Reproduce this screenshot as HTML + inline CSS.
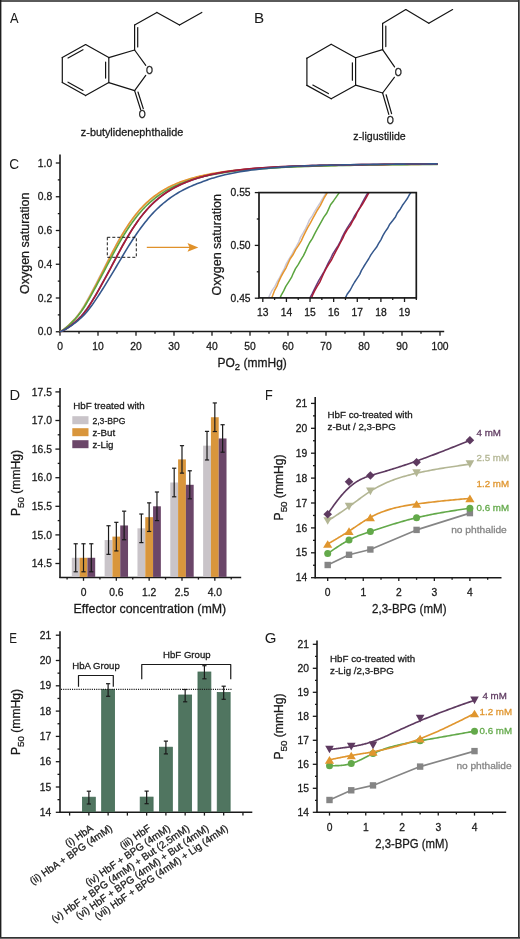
<!DOCTYPE html>
<html><head><meta charset="utf-8"><style>
html,body{margin:0;padding:0;background:#fff;}
body{width:520px;height:939px;overflow:hidden;}
svg text{stroke-width:0.28px;}
svg{display:block;font-family:"Liberation Sans", sans-serif;-webkit-font-smoothing:antialiased;will-change:transform;}
</style></head><body>
<svg width="520" height="939" viewBox="0 0 520 939">
<rect width="520" height="939" fill="#fff"/>
<line x1="62.3" y1="57.6" x2="85.6" y2="44.6" stroke="#141414" stroke-width="1.2" stroke-linecap="round"/>
<line x1="85.6" y1="44.6" x2="108.8" y2="57.6" stroke="#141414" stroke-width="1.2" stroke-linecap="round"/>
<line x1="108.8" y1="57.6" x2="108.8" y2="82.6" stroke="#141414" stroke-width="1.2" stroke-linecap="round"/>
<line x1="108.8" y1="82.6" x2="85.6" y2="95.6" stroke="#141414" stroke-width="1.2" stroke-linecap="round"/>
<line x1="85.6" y1="95.6" x2="62.3" y2="82.6" stroke="#141414" stroke-width="1.2" stroke-linecap="round"/>
<line x1="62.3" y1="82.6" x2="62.3" y2="57.6" stroke="#141414" stroke-width="1.2" stroke-linecap="round"/>
<line x1="68.05" y1="58.05" x2="82.97" y2="49.73" stroke="#141414" stroke-width="1.2" stroke-linecap="round"/>
<line x1="68.05" y1="82.15" x2="82.97" y2="90.47" stroke="#141414" stroke-width="1.2" stroke-linecap="round"/>
<line x1="105.6" y1="62.1" x2="105.6" y2="78.1" stroke="#141414" stroke-width="1.2" stroke-linecap="round"/>
<line x1="108.8" y1="57.6" x2="134.6" y2="50" stroke="#141414" stroke-width="1.2" stroke-linecap="round"/>
<line x1="108.8" y1="82.6" x2="134.6" y2="90.6" stroke="#141414" stroke-width="1.2" stroke-linecap="round"/>
<line x1="134.6" y1="50" x2="145.76" y2="65.38" stroke="#141414" stroke-width="1.2" stroke-linecap="round"/>
<line x1="134.6" y1="90.6" x2="145.74" y2="75.4" stroke="#141414" stroke-width="1.2" stroke-linecap="round"/>
<line x1="134.6" y1="90.6" x2="140.6" y2="109.46" stroke="#141414" stroke-width="1.2" stroke-linecap="round"/>
<line x1="137.99" y1="92.01" x2="143.27" y2="108.61" stroke="#141414" stroke-width="1.2" stroke-linecap="round"/>
<text transform="translate(149.4,74.04) scale(0.86,1)" x="0" y="0" font-size="10.4" text-anchor="middle" fill="#141414" stroke="#141414">O</text>
<text transform="translate(142.3,118.44) scale(0.86,1)" x="0" y="0" font-size="10.4" text-anchor="middle" fill="#141414" stroke="#141414">O</text>
<line x1="134.6" y1="50" x2="134.6" y2="25" stroke="#141414" stroke-width="1.2" stroke-linecap="round"/>
<line x1="137.7" y1="47" x2="137.7" y2="27.5" stroke="#141414" stroke-width="1.2" stroke-linecap="round"/>
<line x1="134.6" y1="25" x2="156.9" y2="12.4" stroke="#141414" stroke-width="1.2" stroke-linecap="round"/>
<line x1="156.9" y1="12.4" x2="179.5" y2="25" stroke="#141414" stroke-width="1.2" stroke-linecap="round"/>
<line x1="179.5" y1="25" x2="201.8" y2="12.4" stroke="#141414" stroke-width="1.2" stroke-linecap="round"/>
<text x="132.1" y="135.7" font-size="10.85" text-anchor="middle" fill="#1a1a1a" stroke="#1a1a1a" font-weight="normal" >z-butylidenephthalide</text>
<line x1="306.9" y1="58.2" x2="331.2" y2="44.3" stroke="#141414" stroke-width="1.2" stroke-linecap="round"/>
<line x1="331.2" y1="44.3" x2="355.6" y2="57.8" stroke="#141414" stroke-width="1.2" stroke-linecap="round"/>
<line x1="355.6" y1="57.8" x2="355.6" y2="85.2" stroke="#141414" stroke-width="1.2" stroke-linecap="round"/>
<line x1="355.6" y1="85.2" x2="331.2" y2="98.8" stroke="#141414" stroke-width="1.2" stroke-linecap="round"/>
<line x1="331.2" y1="98.8" x2="306.9" y2="85.4" stroke="#141414" stroke-width="1.2" stroke-linecap="round"/>
<line x1="306.9" y1="85.4" x2="306.9" y2="58.2" stroke="#141414" stroke-width="1.2" stroke-linecap="round"/>
<line x1="312.82" y1="85.01" x2="328.37" y2="93.59" stroke="#141414" stroke-width="1.2" stroke-linecap="round"/>
<line x1="352.4" y1="62.73" x2="352.4" y2="80.27" stroke="#141414" stroke-width="1.2" stroke-linecap="round"/>
<line x1="355.6" y1="57.8" x2="382.6" y2="49.6" stroke="#141414" stroke-width="1.2" stroke-linecap="round"/>
<line x1="355.6" y1="85.2" x2="382.6" y2="93" stroke="#141414" stroke-width="1.2" stroke-linecap="round"/>
<line x1="382.6" y1="49.6" x2="394.56" y2="66.93" stroke="#141414" stroke-width="1.2" stroke-linecap="round"/>
<line x1="382.6" y1="93" x2="394.36" y2="77.32" stroke="#141414" stroke-width="1.2" stroke-linecap="round"/>
<line x1="382.6" y1="93" x2="388.79" y2="114.43" stroke="#141414" stroke-width="1.2" stroke-linecap="round"/>
<line x1="386.13" y1="94.77" x2="391.58" y2="113.62" stroke="#141414" stroke-width="1.2" stroke-linecap="round"/>
<text transform="translate(398.2,75.91) scale(0.86,1)" x="0" y="0" font-size="10.6" text-anchor="middle" fill="#141414" stroke="#141414">O</text>
<text transform="translate(390.4,123.71) scale(0.86,1)" x="0" y="0" font-size="10.6" text-anchor="middle" fill="#141414" stroke="#141414">O</text>
<line x1="382.6" y1="49.6" x2="382.6" y2="23.4" stroke="#141414" stroke-width="1.2" stroke-linecap="round"/>
<line x1="385.8" y1="46.6" x2="385.8" y2="26" stroke="#141414" stroke-width="1.2" stroke-linecap="round"/>
<line x1="382.6" y1="23.4" x2="405.8" y2="9.6" stroke="#141414" stroke-width="1.2" stroke-linecap="round"/>
<line x1="405.8" y1="9.6" x2="428.8" y2="23.2" stroke="#141414" stroke-width="1.2" stroke-linecap="round"/>
<line x1="428.8" y1="23.2" x2="452.6" y2="9.6" stroke="#141414" stroke-width="1.2" stroke-linecap="round"/>
<text x="379.5" y="139.9" font-size="10.6" text-anchor="middle" fill="#1a1a1a" stroke="#1a1a1a" font-weight="normal" >z-ligustilide</text>
<text transform="translate(10,23.4) scale(0.83,1)" x="0" y="0" font-size="15.5" fill="#1a1a1a" stroke="none">A</text>
<text transform="translate(254.05,23.3) scale(0.98,1)" x="0" y="0" font-size="15.5" fill="#1a1a1a" stroke="none">B</text>
<text transform="translate(9.15,168.9) scale(0.88,1)" x="0" y="0" font-size="15.5" fill="#1a1a1a" stroke="none">C</text>
<text transform="translate(9.48,400) scale(0.95,1)" x="0" y="0" font-size="15.5" fill="#1a1a1a" stroke="none">D</text>
<text transform="translate(9.27,642.9) scale(0.75,1)" x="0" y="0" font-size="15.5" fill="#1a1a1a" stroke="none">E</text>
<text transform="translate(265,400) scale(0.82,1)" x="0" y="0" font-size="15.5" fill="#1a1a1a" stroke="none">F</text>
<text transform="translate(264.86,642.6) scale(0.97,1)" x="0" y="0" font-size="15.5" fill="#1a1a1a" stroke="none">G</text>
<line x1="60" y1="154.5" x2="60" y2="332.4" stroke="#1a1a1a" stroke-width="1.6" />
<line x1="59.2" y1="331.5" x2="444.2" y2="331.5" stroke="#1a1a1a" stroke-width="1.6" />
<line x1="55.8" y1="331.75" x2="60" y2="331.75" stroke="#1a1a1a" stroke-width="1.3" />
<text x="52.2" y="335.45" font-size="10.3" text-anchor="end" fill="#1a1a1a" stroke="#1a1a1a" font-weight="normal" >0.0</text>
<line x1="57.8" y1="314.88" x2="60" y2="314.88" stroke="#1a1a1a" stroke-width="1.3" />
<line x1="55.8" y1="298" x2="60" y2="298" stroke="#1a1a1a" stroke-width="1.3" />
<text x="52.2" y="301.7" font-size="10.3" text-anchor="end" fill="#1a1a1a" stroke="#1a1a1a" font-weight="normal" >0.2</text>
<line x1="57.8" y1="281.12" x2="60" y2="281.12" stroke="#1a1a1a" stroke-width="1.3" />
<line x1="55.8" y1="264.25" x2="60" y2="264.25" stroke="#1a1a1a" stroke-width="1.3" />
<text x="52.2" y="267.95" font-size="10.3" text-anchor="end" fill="#1a1a1a" stroke="#1a1a1a" font-weight="normal" >0.4</text>
<line x1="57.8" y1="247.38" x2="60" y2="247.38" stroke="#1a1a1a" stroke-width="1.3" />
<line x1="55.8" y1="230.5" x2="60" y2="230.5" stroke="#1a1a1a" stroke-width="1.3" />
<text x="52.2" y="234.2" font-size="10.3" text-anchor="end" fill="#1a1a1a" stroke="#1a1a1a" font-weight="normal" >0.6</text>
<line x1="57.8" y1="213.62" x2="60" y2="213.62" stroke="#1a1a1a" stroke-width="1.3" />
<line x1="55.8" y1="196.75" x2="60" y2="196.75" stroke="#1a1a1a" stroke-width="1.3" />
<text x="52.2" y="200.45" font-size="10.3" text-anchor="end" fill="#1a1a1a" stroke="#1a1a1a" font-weight="normal" >0.8</text>
<line x1="57.8" y1="179.88" x2="60" y2="179.88" stroke="#1a1a1a" stroke-width="1.3" />
<line x1="55.8" y1="163" x2="60" y2="163" stroke="#1a1a1a" stroke-width="1.3" />
<text x="52.2" y="166.7" font-size="10.3" text-anchor="end" fill="#1a1a1a" stroke="#1a1a1a" font-weight="normal" >1.0</text>
<line x1="60" y1="331.75" x2="60" y2="335.8" stroke="#1a1a1a" stroke-width="1.3" />
<text x="60" y="349.5" font-size="10.3" text-anchor="middle" fill="#1a1a1a" stroke="#1a1a1a" font-weight="normal" >0</text>
<line x1="79" y1="331.75" x2="79" y2="333.8" stroke="#1a1a1a" stroke-width="1.3" />
<line x1="98" y1="331.75" x2="98" y2="335.8" stroke="#1a1a1a" stroke-width="1.3" />
<text x="98" y="349.5" font-size="10.3" text-anchor="middle" fill="#1a1a1a" stroke="#1a1a1a" font-weight="normal" >10</text>
<line x1="117" y1="331.75" x2="117" y2="333.8" stroke="#1a1a1a" stroke-width="1.3" />
<line x1="136" y1="331.75" x2="136" y2="335.8" stroke="#1a1a1a" stroke-width="1.3" />
<text x="136" y="349.5" font-size="10.3" text-anchor="middle" fill="#1a1a1a" stroke="#1a1a1a" font-weight="normal" >20</text>
<line x1="155" y1="331.75" x2="155" y2="333.8" stroke="#1a1a1a" stroke-width="1.3" />
<line x1="174" y1="331.75" x2="174" y2="335.8" stroke="#1a1a1a" stroke-width="1.3" />
<text x="174" y="349.5" font-size="10.3" text-anchor="middle" fill="#1a1a1a" stroke="#1a1a1a" font-weight="normal" >30</text>
<line x1="193" y1="331.75" x2="193" y2="333.8" stroke="#1a1a1a" stroke-width="1.3" />
<line x1="212" y1="331.75" x2="212" y2="335.8" stroke="#1a1a1a" stroke-width="1.3" />
<text x="212" y="349.5" font-size="10.3" text-anchor="middle" fill="#1a1a1a" stroke="#1a1a1a" font-weight="normal" >40</text>
<line x1="231" y1="331.75" x2="231" y2="333.8" stroke="#1a1a1a" stroke-width="1.3" />
<line x1="250" y1="331.75" x2="250" y2="335.8" stroke="#1a1a1a" stroke-width="1.3" />
<text x="250" y="349.5" font-size="10.3" text-anchor="middle" fill="#1a1a1a" stroke="#1a1a1a" font-weight="normal" >50</text>
<line x1="269" y1="331.75" x2="269" y2="333.8" stroke="#1a1a1a" stroke-width="1.3" />
<line x1="288" y1="331.75" x2="288" y2="335.8" stroke="#1a1a1a" stroke-width="1.3" />
<text x="288" y="349.5" font-size="10.3" text-anchor="middle" fill="#1a1a1a" stroke="#1a1a1a" font-weight="normal" >60</text>
<line x1="307" y1="331.75" x2="307" y2="333.8" stroke="#1a1a1a" stroke-width="1.3" />
<line x1="326" y1="331.75" x2="326" y2="335.8" stroke="#1a1a1a" stroke-width="1.3" />
<text x="326" y="349.5" font-size="10.3" text-anchor="middle" fill="#1a1a1a" stroke="#1a1a1a" font-weight="normal" >70</text>
<line x1="345" y1="331.75" x2="345" y2="333.8" stroke="#1a1a1a" stroke-width="1.3" />
<line x1="364" y1="331.75" x2="364" y2="335.8" stroke="#1a1a1a" stroke-width="1.3" />
<text x="364" y="349.5" font-size="10.3" text-anchor="middle" fill="#1a1a1a" stroke="#1a1a1a" font-weight="normal" >80</text>
<line x1="383" y1="331.75" x2="383" y2="333.8" stroke="#1a1a1a" stroke-width="1.3" />
<line x1="402" y1="331.75" x2="402" y2="335.8" stroke="#1a1a1a" stroke-width="1.3" />
<text x="402" y="349.5" font-size="10.3" text-anchor="middle" fill="#1a1a1a" stroke="#1a1a1a" font-weight="normal" >90</text>
<line x1="421" y1="331.75" x2="421" y2="333.8" stroke="#1a1a1a" stroke-width="1.3" />
<line x1="440" y1="331.75" x2="440" y2="335.8" stroke="#1a1a1a" stroke-width="1.3" />
<text x="440" y="349.5" font-size="10.3" text-anchor="middle" fill="#1a1a1a" stroke="#1a1a1a" font-weight="normal" >100</text>
<text x="28.7" y="243.3" font-size="12.5" text-anchor="middle" fill="#1a1a1a" stroke="#1a1a1a" transform="rotate(-90 28.7 243.3)">Oxygen saturation</text>
<text x="217.5" y="366.8" font-size="12" text-anchor="start" fill="#1a1a1a" stroke="#1a1a1a" font-weight="normal" >PO<tspan font-size="9.5" dy="3.3">2</tspan><tspan dy="-3.3"> (mmHg)</tspan></text>
<polyline points="60,331.75 61.52,330.77 63.04,329.81 64.56,328.62 66.08,327.32 67.6,325.96 69.12,324.53 70.64,323.04 72.16,321.48 73.68,319.86 75.2,318.21 76.72,316.4 78.24,314.44 79.76,312.35 81.28,310.12 82.8,307.73 84.32,305.26 85.84,302.59 87.36,299.89 88.88,297.15 90.4,294.39 91.92,291.54 93.44,288.69 94.96,285.77 96.48,282.84 98,279.93 99.52,276.96 101.04,274.02 102.56,271.11 104.08,268.12 105.6,265.1 107.12,262.14 108.64,259.21 110.16,256.18 111.68,253.22 113.2,250.33 114.72,247.51 116.24,244.68 117.76,241.93 119.28,239.26 120.8,236.67 122.32,234.13 123.84,231.63 125.36,229.21 126.88,226.88 128.4,224.63 129.92,222.44 131.44,220.29 132.96,218.23 134.48,216.24 136,214.33 137.52,212.5 139.04,210.74 140.56,209.05 142.08,207.43 143.6,205.87 145.12,204.38 146.64,202.95 148.16,201.58 149.68,200.26 151.2,198.99 152.72,197.77 154.24,196.61 155.76,195.49 157.28,194.41 158.8,193.38 160.32,192.39 161.84,191.44 163.36,190.52 164.88,189.65 166.4,188.8 167.92,187.99 169.44,187.21 170.96,186.47 172.48,185.75 174,185.05 175.52,184.39 177.04,183.75 178.56,183.13 180.08,182.54 181.6,181.96 183.12,181.41 184.64,180.89 186.16,180.38 187.68,179.88 189.2,179.41 190.72,178.95 192.24,178.51 193.76,178.09 195.28,177.68 196.8,177.28 198.32,176.9 199.84,176.53 201.36,176.18 202.88,175.83 204.4,175.5 205.92,175.18 207.44,174.87 208.96,174.57 210.48,174.28 212,174 213.52,173.72 217.32,173.08 221.12,172.49 224.92,171.95 228.72,171.44 232.52,170.98 236.32,170.54 240.12,170.14 243.92,169.77 247.72,169.42 251.52,169.11 255.32,168.81 259.12,168.54 262.92,168.28 266.72,168.04 270.52,167.82 274.32,167.61 278.12,167.41 281.92,167.23 285.72,167.06 289.52,166.9 293.32,166.74 297.12,166.6 300.92,166.46 304.72,166.34 308.52,166.22 312.32,166.11 316.12,166 319.92,165.89 323.72,165.8 327.52,165.7 331.32,165.62 335.12,165.53 338.92,165.45 342.72,165.38 346.52,165.31 350.32,165.24 354.12,165.17 357.92,165.11 361.72,165.05 365.52,164.99 369.32,164.94 373.12,164.89 376.92,164.85 380.72,164.8 384.52,164.76 388.32,164.71 392.12,164.67 395.92,164.63 399.72,164.6 403.52,164.56 407.32,164.53 411.12,164.49 414.92,164.46 418.72,164.43 422.52,164.4 426.32,164.38 430.12,164.35 433.92,164.32 437.72,164.3" fill="none" stroke="#c9c6d6" stroke-width="1.6" stroke-linejoin="round" />
<polyline points="60,331.75 61.52,330.84 63.04,329.94 64.56,328.82 66.08,327.57 67.6,326.26 69.12,324.88 70.64,323.43 72.16,321.91 73.68,320.34 75.2,318.72 76.72,316.97 78.24,315.08 79.76,313.07 81.28,310.87 82.8,308.56 84.32,306.11 85.84,303.51 87.36,300.82 88.88,298.09 90.4,295.34 91.92,292.5 93.44,289.64 94.96,286.74 96.48,283.79 98,280.86 99.52,277.89 101.04,274.91 102.56,271.97 104.08,268.99 105.6,265.93 107.12,262.92 108.64,259.96 110.16,256.91 111.68,253.9 113.2,250.95 114.72,248.08 116.24,245.21 117.76,242.41 119.28,239.68 120.8,237.04 122.32,234.45 123.84,231.9 125.36,229.43 126.88,227.06 128.4,224.76 129.92,222.53 131.44,220.34 132.96,218.23 134.48,216.2 136,214.26 137.52,212.39 139.04,210.6 140.56,208.88 142.08,207.23 143.6,205.65 145.12,204.14 146.64,202.68 148.16,201.29 149.68,199.95 151.2,198.67 152.72,197.44 154.24,196.25 155.76,195.12 157.28,194.04 158.8,193 160.32,192 161.84,191.04 163.36,190.11 164.88,189.23 166.4,188.38 167.92,187.56 169.44,186.78 170.96,186.03 172.48,185.31 174,184.61 175.52,183.94 177.04,183.3 178.56,182.68 180.08,182.09 181.6,181.52 183.12,180.97 184.64,180.44 186.16,179.94 187.68,179.44 189.2,178.97 190.72,178.52 192.24,178.08 193.76,177.66 195.28,177.25 196.8,176.86 198.32,176.48 199.84,176.11 201.36,175.76 202.88,175.42 204.4,175.09 205.92,174.77 207.44,174.47 208.96,174.17 210.48,173.88 212,173.61 213.52,173.34 217.32,172.71 221.12,172.13 224.92,171.59 228.72,171.1 232.52,170.64 236.32,170.22 240.12,169.82 243.92,169.46 247.72,169.13 251.52,168.82 255.32,168.54 259.12,168.27 262.92,168.02 266.72,167.79 270.52,167.58 274.32,167.38 278.12,167.19 281.92,167.01 285.72,166.85 289.52,166.69 293.32,166.54 297.12,166.41 300.92,166.28 304.72,166.16 308.52,166.04 312.32,165.93 316.12,165.83 319.92,165.73 323.72,165.64 327.52,165.55 331.32,165.47 335.12,165.39 338.92,165.31 342.72,165.24 346.52,165.17 350.32,165.1 354.12,165.04 357.92,164.98 361.72,164.93 365.52,164.88 369.32,164.83 373.12,164.78 376.92,164.74 380.72,164.69 384.52,164.65 388.32,164.61 392.12,164.57 395.92,164.54 399.72,164.5 403.52,164.47 407.32,164.44 411.12,164.41 414.92,164.38 418.72,164.35 422.52,164.32 426.32,164.29 430.12,164.27 433.92,164.24 437.72,164.22" fill="none" stroke="#e6962e" stroke-width="1.6" stroke-linejoin="round" />
<polyline points="60,331.75 61.52,330.83 63.04,329.94 64.56,328.84 66.08,327.61 67.6,326.33 69.12,324.99 70.64,323.57 72.16,322.1 73.68,320.57 75.2,319 76.72,317.33 78.24,315.53 79.76,313.59 81.28,311.5 82.8,309.31 84.32,306.96 85.84,304.51 87.36,301.92 88.88,299.29 90.4,296.64 91.92,293.95 93.44,291.18 94.96,288.42 96.48,285.58 98,282.74 99.52,279.91 101.04,277.03 102.56,274.17 104.08,271.34 105.6,268.44 107.12,265.5 108.64,262.61 110.16,259.77 111.68,256.83 113.2,253.93 114.72,251.09 116.24,248.33 117.76,245.57 119.28,242.86 120.8,240.23 122.32,237.67 123.84,235.19 125.36,232.72 126.88,230.32 128.4,228 129.92,225.77 131.44,223.61 132.96,221.48 134.48,219.41 136,217.43 137.52,215.51 139.04,213.67 140.56,211.91 142.08,210.21 143.6,208.57 145.12,207.01 146.64,205.5 148.16,204.06 149.68,202.67 151.2,201.33 152.72,200.05 154.24,198.82 155.76,197.63 157.28,196.49 158.8,195.4 160.32,194.35 161.84,193.34 163.36,192.37 164.88,191.44 166.4,190.54 167.92,189.68 169.44,188.85 170.96,188.05 172.48,187.29 174,186.55 175.52,185.84 177.04,185.16 178.56,184.5 180.08,183.86 181.6,183.25 183.12,182.67 184.64,182.1 186.16,181.55 187.68,181.03 189.2,180.52 190.72,180.04 192.24,179.56 193.76,179.11 195.28,178.67 196.8,178.25 198.32,177.84 199.84,177.44 201.36,177.06 202.88,176.69 204.4,176.34 205.92,176 207.44,175.66 208.96,175.34 210.48,175.03 212,174.73 213.52,174.44 217.32,173.75 221.12,173.12 224.92,172.53 228.72,171.99 232.52,171.49 236.32,171.03 240.12,170.6 243.92,170.2 247.72,169.83 251.52,169.48 255.32,169.16 259.12,168.87 262.92,168.6 266.72,168.34 270.52,168.1 274.32,167.87 278.12,167.66 281.92,167.47 285.72,167.28 289.52,167.11 293.32,166.95 297.12,166.79 300.92,166.65 304.72,166.51 308.52,166.38 312.32,166.26 316.12,166.15 319.92,166.04 323.72,165.93 327.52,165.84 331.32,165.74 335.12,165.65 338.92,165.57 342.72,165.49 346.52,165.41 350.32,165.34 354.12,165.27 357.92,165.2 361.72,165.14 365.52,165.08 369.32,165.02 373.12,164.97 376.92,164.92 380.72,164.87 384.52,164.82 388.32,164.78 392.12,164.74 395.92,164.7 399.72,164.66 403.52,164.62 407.32,164.58 411.12,164.55 414.92,164.51 418.72,164.48 422.52,164.45 426.32,164.42 430.12,164.39 433.92,164.37 437.72,164.34" fill="none" stroke="#5ba53f" stroke-width="1.6" stroke-linejoin="round" />
<polyline points="60,331.75 61.52,331.13 63.04,330.47 64.56,329.74 66.08,328.82 67.6,327.81 69.12,326.74 70.64,325.62 72.16,324.43 73.68,323.17 75.2,321.86 76.72,320.49 78.24,319.07 79.76,317.58 81.28,315.98 82.8,314.21 84.32,312.34 85.84,310.35 87.36,308.22 88.88,306 90.4,303.63 91.92,301.17 93.44,298.67 94.96,296.14 96.48,293.55 98,290.9 99.52,288.23 101.04,285.49 102.56,282.73 104.08,279.98 105.6,277.17 107.12,274.37 108.64,271.59 110.16,268.76 111.68,265.85 113.2,262.99 114.72,260.17 116.24,257.26 117.76,254.36 119.28,251.52 120.8,248.74 122.32,245.98 123.84,243.24 125.36,240.58 126.88,237.99 128.4,235.48 129.92,232.97 131.44,230.53 132.96,228.17 134.48,225.89 136,223.68 137.52,221.5 139.04,219.38 140.56,217.35 142.08,215.39 143.6,213.5 145.12,211.68 146.64,209.94 148.16,208.27 149.68,206.66 151.2,205.11 152.72,203.63 154.24,202.2 155.76,200.83 157.28,199.52 158.8,198.25 160.32,197.03 161.84,195.87 163.36,194.75 164.88,193.67 166.4,192.64 167.92,191.65 169.44,190.7 170.96,189.78 172.48,188.9 174,188.06 175.52,187.25 177.04,186.47 178.56,185.72 180.08,185 181.6,184.31 183.12,183.64 184.64,183 186.16,182.38 187.68,181.76 189.2,181.17 190.72,180.6 192.24,180.05 193.76,179.52 195.28,179.01 196.8,178.52 198.32,178.05 199.84,177.59 201.36,177.15 202.88,176.73 204.4,176.32 205.92,175.93 207.44,175.55 208.96,175.18 210.48,174.83 212,174.49 213.52,174.16 217.32,173.39 221.12,172.68 224.92,172.03 228.72,171.44 232.52,170.89 236.32,170.39 240.12,169.92 243.92,169.5 247.72,169.1 251.52,168.74 255.32,168.41 259.12,168.11 262.92,167.82 266.72,167.56 270.52,167.32 274.32,167.09 278.12,166.9 281.92,166.71 285.72,166.54 289.52,166.38 293.32,166.23 297.12,166.09 300.92,165.96 304.72,165.84 308.52,165.73 312.32,165.62 316.12,165.51 319.92,165.42 323.72,165.33 327.52,165.24 331.32,165.16 335.12,165.08 338.92,165.01 342.72,164.94 346.52,164.87 350.32,164.81 354.12,164.75 357.92,164.7 361.72,164.65 365.52,164.6 369.32,164.55 373.12,164.51 376.92,164.47 380.72,164.43 384.52,164.39 388.32,164.35 392.12,164.32 395.92,164.28 399.72,164.25 403.52,164.22 407.32,164.19 411.12,164.16 414.92,164.14 418.72,164.11 422.52,164.09 426.32,164.06 430.12,164.04 433.92,164.02 437.72,164" fill="none" stroke="#6a3d7c" stroke-width="1.6" stroke-linejoin="round" />
<polyline points="60,331.75 61.52,331.15 63.04,330.51 64.56,329.8 66.08,328.91 67.6,327.92 69.12,326.87 70.64,325.76 72.16,324.59 73.68,323.35 75.2,322.05 76.72,320.7 78.24,319.3 79.76,317.84 81.28,316.25 82.8,314.51 84.32,312.68 85.84,310.7 87.36,308.61 88.88,306.39 90.4,304.06 91.92,301.6 93.44,299.11 94.96,296.58 96.48,294 98,291.35 99.52,288.68 101.04,285.94 102.56,283.18 104.08,280.42 105.6,277.61 107.12,274.79 108.64,272 110.16,269.18 111.68,266.25 113.2,263.36 114.72,260.52 116.24,257.61 117.76,254.69 119.28,251.83 120.8,249.02 122.32,246.25 123.84,243.49 125.36,240.8 126.88,238.19 128.4,235.65 129.92,233.12 131.44,230.66 132.96,228.28 134.48,225.97 136,223.75 137.52,221.55 139.04,219.41 140.56,217.36 142.08,215.38 143.6,213.47 145.12,211.64 146.64,209.89 148.16,208.2 149.68,206.57 151.2,205.02 152.72,203.52 154.24,202.09 155.76,200.71 157.28,199.38 158.8,198.11 160.32,196.89 161.84,195.71 163.36,194.59 164.88,193.51 166.4,192.48 167.92,191.48 169.44,190.52 170.96,189.6 172.48,188.72 174,187.87 175.52,187.06 177.04,186.28 178.56,185.53 180.08,184.81 181.6,184.11 183.12,183.44 184.64,182.8 186.16,182.17 187.68,181.56 189.2,180.96 190.72,180.39 192.24,179.85 193.76,179.32 195.28,178.81 196.8,178.32 198.32,177.85 199.84,177.39 201.36,176.95 202.88,176.53 204.4,176.13 205.92,175.74 207.44,175.36 208.96,174.99 210.48,174.64 212,174.3 213.52,173.98 217.32,173.21 221.12,172.51 224.92,171.86 228.72,171.27 232.52,170.73 236.32,170.23 240.12,169.78 243.92,169.35 247.72,168.96 251.52,168.61 255.32,168.29 259.12,167.99 262.92,167.71 266.72,167.45 270.52,167.21 274.32,166.99 278.12,166.8 281.92,166.62 285.72,166.45 289.52,166.3 293.32,166.15 297.12,166.01 300.92,165.89 304.72,165.77 308.52,165.65 312.32,165.55 316.12,165.45 319.92,165.35 323.72,165.26 327.52,165.18 331.32,165.1 335.12,165.02 338.92,164.95 342.72,164.88 346.52,164.82 350.32,164.76 354.12,164.7 357.92,164.65 361.72,164.6 365.52,164.56 369.32,164.51 373.12,164.47 376.92,164.43 380.72,164.39 384.52,164.35 388.32,164.31 392.12,164.28 395.92,164.25 399.72,164.22 403.52,164.19 407.32,164.16 411.12,164.13 414.92,164.1 418.72,164.08 422.52,164.05 426.32,164.03 430.12,164.01 433.92,163.99 437.72,163.97" fill="none" stroke="#a81c36" stroke-width="1.6" stroke-linejoin="round" />
<polyline points="60,331.75 61.52,331.15 63.04,330.52 64.56,329.85 66.08,329.03 67.6,328.1 69.12,327.13 70.64,326.11 72.16,325.05 73.68,323.93 75.2,322.76 76.72,321.54 78.24,320.28 79.76,318.99 81.28,317.62 82.8,316.17 84.32,314.59 85.84,312.94 87.36,311.15 88.88,309.3 90.4,307.31 91.92,305.28 93.44,303.09 94.96,300.87 96.48,298.61 98,296.33 99.52,294.01 101.04,291.63 102.56,289.23 104.08,286.8 105.6,284.33 107.12,281.86 108.64,279.39 110.16,276.86 111.68,274.35 113.2,271.86 114.72,269.35 116.24,266.74 117.76,264.17 119.28,261.63 120.8,259.1 122.32,256.48 123.84,253.9 125.36,251.37 126.88,248.9 128.4,246.44 129.92,243.99 131.44,241.6 132.96,239.26 134.48,236.99 136,234.76 137.52,232.53 139.04,230.37 140.56,228.28 142.08,226.24 143.6,224.27 145.12,222.33 146.64,220.42 148.16,218.57 149.68,216.79 151.2,215.07 152.72,213.4 154.24,211.79 155.76,210.24 157.28,208.74 158.8,207.3 160.32,205.9 161.84,204.56 163.36,203.26 164.88,202.01 166.4,200.81 167.92,199.64 169.44,198.51 170.96,197.43 172.48,196.38 174,195.37 175.52,194.4 177.04,193.46 178.56,192.56 180.08,191.68 181.6,190.84 183.12,190.02 184.64,189.24 186.16,188.48 187.68,187.75 189.2,187.04 190.72,186.36 192.24,185.7 193.76,185.07 195.28,184.45 196.8,183.86 198.32,183.29 199.84,182.73 201.36,182.15 202.88,181.55 204.4,180.97 205.92,180.41 207.44,179.88 208.96,179.35 210.48,178.85 212,178.36 213.52,177.89 217.32,176.78 221.12,175.76 224.92,174.83 228.72,173.97 232.52,173.17 236.32,172.45 240.12,171.78 243.92,171.16 247.72,170.59 251.52,170.07 255.32,169.59 259.12,169.14 262.92,168.73 266.72,168.35 270.52,168 274.32,167.68 278.12,167.38 281.92,167.11 285.72,166.86 289.52,166.62 293.32,166.41 297.12,166.2 300.92,166.02 304.72,165.87 308.52,165.74 312.32,165.62 316.12,165.5 319.92,165.4 323.72,165.3 327.52,165.2 331.32,165.11 335.12,165.03 338.92,164.95 342.72,164.88 346.52,164.81 350.32,164.74 354.12,164.67 357.92,164.61 361.72,164.56 365.52,164.51 369.32,164.45 373.12,164.41 376.92,164.36 380.72,164.31 384.52,164.27 388.32,164.23 392.12,164.19 395.92,164.16 399.72,164.12 403.52,164.09 407.32,164.06 411.12,164.03 414.92,164.01 418.72,163.98 422.52,163.95 426.32,163.93 430.12,163.91 433.92,163.88 437.72,163.86" fill="none" stroke="#34578c" stroke-width="1.6" stroke-linejoin="round" />
<rect x="107.3" y="237.3" width="29" height="20" fill="none" stroke="#1a1a1a" stroke-width="1" stroke-dasharray="3 2"/>
<line x1="146.8" y1="247.4" x2="190" y2="247.4" stroke="#e0912a" stroke-width="1.3" />
<polygon points="187.5,243 198.3,247.4 187.5,251.8 189.6,247.4" fill="#e0912a" stroke="none" stroke-width="0"/>
<clipPath id="ic"><rect x="259" y="192.6" width="157.3" height="105.3"/></clipPath>
<g clip-path="url(#ic)">
<polyline points="250.68,333.2 253.18,328.65 255.44,324.1 258.01,319.46 260.54,314.72 262.35,309.96 264.26,305.23 267.3,300.53 269.44,295.85 271.62,291.2 274.76,286.58 277.04,281.99 279.79,277.42 281.99,272.88 284.43,268.37 286.26,263.89 288.83,259.44 291.62,255.02 293.87,250.63 296.41,246.27 298.82,241.82 300.48,237.37 303.18,232.95 305.59,228.56 307.63,224.2 309.44,219.88 312.42,215.59 314.75,211.33 317.38,207.1 320.12,202.9 322.55,198.74 325.11,194.61 327.08,190.51 329.65,186.45 331.73,182.42 334.49,178.42 336.92,174.45 338.53,170.52 340.41,166.51 342.53,162.51 345.63,158.55 347.87,154.61 350.37,150.72 352.44,146.85 354.85,143.02 357.09,139.23 359.33,135.46 361.89,131.74 364.39,128.04 367.23,124.38 369.66,120.75 372.35,117.15 374.71,113.59 377.08,110.06 379.37,106.56 381.08,103.09 383.82,99.66 386.52,96.26 388.89,92.83 391.06,89.38 393.47,85.97 395.25,82.59 397.96,79.24 400.25,75.93 402.22,72.65 404.04,69.4 406.97,66.18 409.89,62.99 411.57,59.83 414.3,56.71 416.46,53.62 418.36,50.55 420.57,47.52 423.4,44.52 426.22,41.55" fill="none" stroke="#c9c6d6" stroke-width="1.5" stroke-linejoin="round" />
<polyline points="250.44,338.02 253.11,333.39 255,328.77 257.84,324.18 260.07,319.49 263,314.69 265.88,309.87 268.03,305.09 270.79,300.33 272.65,295.6 274.38,290.89 276.93,286.21 278.74,281.56 280.92,276.94 283.4,272.35 286.1,267.78 288.14,263.25 290.24,258.74 293.32,254.26 295.51,249.82 298.53,245.4 301.28,240.86 303.29,236.35 305.5,231.88 307.83,227.43 310.32,223.02 312.71,218.65 315.05,214.3 317.47,209.99 320.26,205.7 322.4,201.46 324.51,197.24 327.05,193.06 328.95,188.91 331.07,184.8 334.08,180.71 336.34,176.66 338.66,172.65 340.36,168.63 342.73,164.55 345.3,160.5 347.14,156.49 349.85,152.51 352.47,148.56 354.33,144.65 357.02,140.78 359.42,136.94 362.06,133.13 364.23,129.36 366.88,125.62 369.48,121.92 371.15,118.24 373.08,114.61 375.87,111 378.88,107.43 380.84,103.9 383.17,100.39 385.67,96.92 387.8,93.44 390.06,89.93 392.28,86.45 394.61,83 397.23,79.58 399.41,76.2 401.74,72.85 404.56,69.54 406.34,66.26 408.95,63.01 411.68,59.79 413.79,56.6 415.87,53.45 418.74,50.33 420.77,47.24 422.84,44.18 425.3,41.15" fill="none" stroke="#e6962e" stroke-width="1.5" stroke-linejoin="round" />
<polyline points="251.23,354.29 253.04,349.75 255.28,345.24 257.57,340.74 260.49,336.27 262.76,331.82 265.56,327.38 267.41,322.94 269.61,318.42 272.23,313.77 275.06,309.15 277.23,304.54 279.18,299.97 281.14,295.42 283.7,290.89 285.8,286.39 288.72,281.92 291.5,277.47 293.38,273.05 295.51,268.65 298.35,264.29 300.85,259.95 303.5,255.63 305.51,251.35 307.37,247.09 309.58,242.78 312.43,238.43 314.51,234.12 316.76,229.83 319.13,225.57 321.51,221.35 323.86,217.15 326.83,212.99 328.71,208.85 330.54,204.75 333.66,200.67 336.48,196.63 339.28,192.62 341.3,188.64 344.01,184.68 346.37,180.76 348.13,176.87 350.7,173.02 353.31,169.17 355.64,165.25 357.81,161.35 359.76,157.49 361.9,153.66 363.96,149.87 365.93,146.1 368.64,142.37 370.88,138.67 373.78,135 375.61,131.37 378.63,127.76 381.19,124.19 383.98,120.64 386.52,117.13 388.89,113.65 391.07,110.2 392.63,106.78 395.31,103.4 397.21,100.04 399.4,96.71 402.07,93.37 404.49,90 406.76,86.66 409.68,83.35 412.05,80.07 414.09,76.83 416.12,73.61 418.98,70.42 421.23,67.27 423.88,64.14 425.92,61.05" fill="none" stroke="#5ba53f" stroke-width="1.5" stroke-linejoin="round" />
<polyline points="250.63,409.97 253.14,405.62 255.95,401.28 257.84,396.95 260.63,392.63 263.44,388.27 265.98,383.8 268.42,379.22 269.93,374.66 272.43,370.1 275.17,365.56 276.83,361.04 278.96,356.53 281.15,352.04 283.71,347.56 286.09,343.1 288.52,338.66 291.29,334.23 293.01,329.83 294.99,325.44 297.33,320.98 299.69,316.43 302.05,311.82 305.26,307.23 308.06,302.66 309.81,298.12 312.24,293.59 314.43,289.09 316.67,284.61 318.99,280.15 321.68,275.72 324.2,271.32 326.4,266.93 328.44,262.58 330.75,258.24 332.82,253.94 335.5,249.66 338.28,245.4 340.53,241.02 342.45,236.67 344.63,232.35 347.09,228.06 349.8,223.79 352.62,219.55 354.82,215.35 357.57,211.17 359.99,207.01 362.17,202.89 364.33,198.8 366.7,194.73 369.31,190.7 371.51,186.69 374.09,182.72 376.32,178.77 378.33,174.85 380.8,170.96 383.43,167.02 385.22,163.06 387.62,159.13 390,155.24 392.92,151.38 395.74,147.54 397.75,143.74 400.5,139.97 403,136.23 404.82,132.52 407.05,128.85 408.91,125.2 411.75,121.59 414.26,118 417,114.45 419.51,110.93 421.83,107.43 424.24,103.97 426.43,100.54" fill="none" stroke="#6a3d7c" stroke-width="1.5" stroke-linejoin="round" />
<polyline points="250.51,412.58 253.12,408.21 254.96,403.84 257.18,399.48 260.14,395.14 262.04,390.81 264.26,386.38 266.62,381.83 269.71,377.23 271.74,372.65 273.71,368.08 276.75,363.52 278.73,358.98 281.68,354.46 284.26,349.95 286.96,345.46 289.68,340.99 291.87,336.53 294.37,332.09 295.92,327.67 298.59,323.24 300.85,318.73 303.4,314.09 305.15,309.46 307.86,304.86 310.69,300.28 312.33,295.71 314.5,291.17 317.02,286.66 319.81,282.17 321.76,277.7 323.77,273.25 325.96,268.83 328.65,264.44 331.4,260.07 333.6,255.72 335.82,251.4 338.12,247.11 340.38,242.75 342.76,238.37 344.72,234 347.31,229.67 350.4,225.37 352.59,221.09 355.24,216.84 357.1,212.62 359.74,208.43 362.38,204.27 364.84,200.14 367.08,196.04 369.32,191.96 371.78,187.92 374.52,183.91 376.25,179.92 378.11,175.97 380.9,172.04 383.76,168.09 385.99,164.1 388.18,160.14 390.74,156.2 392.61,152.3 394.72,148.44 396.83,144.6 399.47,140.79 401.71,137.02 403.89,133.27 406.67,129.56 409.64,125.88 411.64,122.23 414.24,118.61 416.41,115.02 419.17,111.47 421.49,107.94 423.44,104.45 425.46,100.98" fill="none" stroke="#a81c36" stroke-width="1.5" stroke-linejoin="round" />
<polyline points="250.42,457.33 252.93,453.47 255.28,449.62 257.38,445.72 259.78,441.76 262.13,437.8 265.02,433.85 267,429.91 270.11,425.97 272.38,422.04 274.82,418.12 277.08,414.2 279.81,410.3 282.42,406.4 284.63,402.51 286.8,398.63 289.31,394.76 291.94,390.9 293.95,386.96 296.46,382.93 299.13,378.83 301.18,374.74 303.04,370.67 305.06,366.61 307.76,362.56 310.31,358.52 313.14,354.5 315.66,350.49 317.45,346.49 319.34,342.5 321.46,338.54 323.56,334.58 326.36,330.64 329.22,326.72 331.98,322.77 333.84,318.77 336.59,314.65 338.56,310.53 340.77,306.44 343.4,302.36 345.18,298.3 347.14,294.26 350.11,290.24 352.25,286.24 354.53,282.25 357.1,278.29 359.73,274.34 361.47,270.42 363.8,266.51 366.25,262.63 368.74,258.76 370.86,254.92 373.5,251.1 376.5,247.29 378.64,243.45 381.02,239.55 382.89,235.69 385.09,231.84 387.81,228.01 389.76,224.21 392.76,220.43 395.6,216.68 397.32,212.95 400.25,209.24 402.32,205.55 404.96,201.89 407.5,198.25 409.43,194.63 411.95,191.04 414.39,187.47 416.99,183.92 418.88,180.4 421.49,176.9 424.27,173.43 426.59,169.98" fill="none" stroke="#34578c" stroke-width="1.5" stroke-linejoin="round" />
</g>
<rect x="259" y="192.6" width="157.3" height="105.3" fill="none" stroke="#1a1a1a" stroke-width="1.7"/>
<line x1="254.8" y1="298.2" x2="259" y2="298.2" stroke="#1a1a1a" stroke-width="1.3" />
<text x="250.6" y="301.9" font-size="10.3" text-anchor="end" fill="#1a1a1a" stroke="#1a1a1a" font-weight="normal" >0.45</text>
<line x1="256.8" y1="271.8" x2="259" y2="271.8" stroke="#1a1a1a" stroke-width="1.3" />
<line x1="254.8" y1="245.4" x2="259" y2="245.4" stroke="#1a1a1a" stroke-width="1.3" />
<text x="250.6" y="249.1" font-size="10.3" text-anchor="end" fill="#1a1a1a" stroke="#1a1a1a" font-weight="normal" >0.50</text>
<line x1="256.8" y1="219" x2="259" y2="219" stroke="#1a1a1a" stroke-width="1.3" />
<line x1="254.8" y1="192.6" x2="259" y2="192.6" stroke="#1a1a1a" stroke-width="1.3" />
<text x="250.6" y="196.3" font-size="10.3" text-anchor="end" fill="#1a1a1a" stroke="#1a1a1a" font-weight="normal" >0.55</text>
<line x1="262.8" y1="297.9" x2="262.8" y2="302" stroke="#1a1a1a" stroke-width="1.3" />
<text x="262.8" y="315.8" font-size="10.3" text-anchor="middle" fill="#1a1a1a" stroke="#1a1a1a" font-weight="normal" >13</text>
<line x1="274.61" y1="297.9" x2="274.61" y2="300" stroke="#1a1a1a" stroke-width="1.3" />
<line x1="286.42" y1="297.9" x2="286.42" y2="302" stroke="#1a1a1a" stroke-width="1.3" />
<text x="286.42" y="315.8" font-size="10.3" text-anchor="middle" fill="#1a1a1a" stroke="#1a1a1a" font-weight="normal" >14</text>
<line x1="298.23" y1="297.9" x2="298.23" y2="300" stroke="#1a1a1a" stroke-width="1.3" />
<line x1="310.04" y1="297.9" x2="310.04" y2="302" stroke="#1a1a1a" stroke-width="1.3" />
<text x="310.04" y="315.8" font-size="10.3" text-anchor="middle" fill="#1a1a1a" stroke="#1a1a1a" font-weight="normal" >15</text>
<line x1="321.85" y1="297.9" x2="321.85" y2="300" stroke="#1a1a1a" stroke-width="1.3" />
<line x1="333.66" y1="297.9" x2="333.66" y2="302" stroke="#1a1a1a" stroke-width="1.3" />
<text x="333.66" y="315.8" font-size="10.3" text-anchor="middle" fill="#1a1a1a" stroke="#1a1a1a" font-weight="normal" >16</text>
<line x1="345.47" y1="297.9" x2="345.47" y2="300" stroke="#1a1a1a" stroke-width="1.3" />
<line x1="357.28" y1="297.9" x2="357.28" y2="302" stroke="#1a1a1a" stroke-width="1.3" />
<text x="357.28" y="315.8" font-size="10.3" text-anchor="middle" fill="#1a1a1a" stroke="#1a1a1a" font-weight="normal" >17</text>
<line x1="369.09" y1="297.9" x2="369.09" y2="300" stroke="#1a1a1a" stroke-width="1.3" />
<line x1="380.9" y1="297.9" x2="380.9" y2="302" stroke="#1a1a1a" stroke-width="1.3" />
<text x="380.9" y="315.8" font-size="10.3" text-anchor="middle" fill="#1a1a1a" stroke="#1a1a1a" font-weight="normal" >18</text>
<line x1="392.71" y1="297.9" x2="392.71" y2="300" stroke="#1a1a1a" stroke-width="1.3" />
<line x1="404.52" y1="297.9" x2="404.52" y2="302" stroke="#1a1a1a" stroke-width="1.3" />
<text x="404.52" y="315.8" font-size="10.3" text-anchor="middle" fill="#1a1a1a" stroke="#1a1a1a" font-weight="normal" >19</text>
<line x1="416.33" y1="297.9" x2="416.33" y2="300" stroke="#1a1a1a" stroke-width="1.3" />
<text x="221.3" y="244.7" font-size="12.5" text-anchor="middle" fill="#1a1a1a" stroke="#1a1a1a" transform="rotate(-90 221.3 244.7)">Oxygen saturation</text>
<line x1="60" y1="388.1" x2="60" y2="578.1" stroke="#1a1a1a" stroke-width="1.6" />
<line x1="59.4" y1="577.5" x2="241.2" y2="577.5" stroke="#1a1a1a" stroke-width="1.6" />
<line x1="55.4" y1="563.5" x2="60" y2="563.5" stroke="#1a1a1a" stroke-width="1.3" />
<text x="51.9" y="567.15" font-size="10.3" text-anchor="end" fill="#1a1a1a" stroke="#1a1a1a" font-weight="normal" >14.5</text>
<line x1="57.7" y1="549.2" x2="60" y2="549.2" stroke="#1a1a1a" stroke-width="1.3" />
<line x1="55.4" y1="534.9" x2="60" y2="534.9" stroke="#1a1a1a" stroke-width="1.3" />
<text x="51.9" y="538.55" font-size="10.3" text-anchor="end" fill="#1a1a1a" stroke="#1a1a1a" font-weight="normal" >15.0</text>
<line x1="57.7" y1="520.6" x2="60" y2="520.6" stroke="#1a1a1a" stroke-width="1.3" />
<line x1="55.4" y1="506.3" x2="60" y2="506.3" stroke="#1a1a1a" stroke-width="1.3" />
<text x="51.9" y="509.95" font-size="10.3" text-anchor="end" fill="#1a1a1a" stroke="#1a1a1a" font-weight="normal" >15.5</text>
<line x1="57.7" y1="492" x2="60" y2="492" stroke="#1a1a1a" stroke-width="1.3" />
<line x1="55.4" y1="477.7" x2="60" y2="477.7" stroke="#1a1a1a" stroke-width="1.3" />
<text x="51.9" y="481.35" font-size="10.3" text-anchor="end" fill="#1a1a1a" stroke="#1a1a1a" font-weight="normal" >16.0</text>
<line x1="57.7" y1="463.4" x2="60" y2="463.4" stroke="#1a1a1a" stroke-width="1.3" />
<line x1="55.4" y1="449.1" x2="60" y2="449.1" stroke="#1a1a1a" stroke-width="1.3" />
<text x="51.9" y="452.75" font-size="10.3" text-anchor="end" fill="#1a1a1a" stroke="#1a1a1a" font-weight="normal" >16.5</text>
<line x1="57.7" y1="434.8" x2="60" y2="434.8" stroke="#1a1a1a" stroke-width="1.3" />
<line x1="55.4" y1="420.5" x2="60" y2="420.5" stroke="#1a1a1a" stroke-width="1.3" />
<text x="51.9" y="424.15" font-size="10.3" text-anchor="end" fill="#1a1a1a" stroke="#1a1a1a" font-weight="normal" >17.0</text>
<line x1="57.7" y1="406.2" x2="60" y2="406.2" stroke="#1a1a1a" stroke-width="1.3" />
<line x1="55.4" y1="391.9" x2="60" y2="391.9" stroke="#1a1a1a" stroke-width="1.3" />
<text x="51.9" y="395.55" font-size="10.3" text-anchor="end" fill="#1a1a1a" stroke="#1a1a1a" font-weight="normal" >17.5</text>
<line x1="83.5" y1="577.5" x2="83.5" y2="580.8" stroke="#1a1a1a" stroke-width="1.3" />
<text x="83.5" y="596.1" font-size="10.3" text-anchor="middle" fill="#1a1a1a" stroke="#1a1a1a" font-weight="normal" >0</text>
<rect x="71.8" y="557.78" width="7.8" height="19.12" fill="#c9c4c9" stroke="none" stroke-width="0"/>
<rect x="79.6" y="557.78" width="7.8" height="19.12" fill="#d9963c" stroke="none" stroke-width="0"/>
<rect x="87.4" y="557.78" width="7.8" height="19.12" fill="#6b4669" stroke="none" stroke-width="0"/>
<line x1="75.7" y1="543.77" x2="75.7" y2="571.79" stroke="#1a1a1a" stroke-width="1.2" />
<line x1="73.6" y1="543.77" x2="77.8" y2="543.77" stroke="#1a1a1a" stroke-width="1.2" />
<line x1="73.6" y1="571.79" x2="77.8" y2="571.79" stroke="#1a1a1a" stroke-width="1.2" />
<line x1="83.5" y1="543.77" x2="83.5" y2="571.79" stroke="#1a1a1a" stroke-width="1.2" />
<line x1="81.4" y1="543.77" x2="85.6" y2="543.77" stroke="#1a1a1a" stroke-width="1.2" />
<line x1="81.4" y1="571.79" x2="85.6" y2="571.79" stroke="#1a1a1a" stroke-width="1.2" />
<line x1="91.3" y1="543.77" x2="91.3" y2="571.79" stroke="#1a1a1a" stroke-width="1.2" />
<line x1="89.2" y1="543.77" x2="93.4" y2="543.77" stroke="#1a1a1a" stroke-width="1.2" />
<line x1="89.2" y1="571.79" x2="93.4" y2="571.79" stroke="#1a1a1a" stroke-width="1.2" />
<line x1="116.33" y1="577.5" x2="116.33" y2="580.8" stroke="#1a1a1a" stroke-width="1.3" />
<text x="116.33" y="596.1" font-size="10.3" text-anchor="middle" fill="#1a1a1a" stroke="#1a1a1a" font-weight="normal" >0.6</text>
<rect x="104.63" y="540.05" width="7.8" height="36.85" fill="#c9c4c9" stroke="none" stroke-width="0"/>
<rect x="112.43" y="536.62" width="7.8" height="40.28" fill="#d9963c" stroke="none" stroke-width="0"/>
<rect x="120.23" y="525.46" width="7.8" height="51.44" fill="#6b4669" stroke="none" stroke-width="0"/>
<line x1="108.53" y1="525.75" x2="108.53" y2="554.35" stroke="#1a1a1a" stroke-width="1.2" />
<line x1="106.43" y1="525.75" x2="110.63" y2="525.75" stroke="#1a1a1a" stroke-width="1.2" />
<line x1="106.43" y1="554.35" x2="110.63" y2="554.35" stroke="#1a1a1a" stroke-width="1.2" />
<line x1="116.33" y1="522.32" x2="116.33" y2="550.92" stroke="#1a1a1a" stroke-width="1.2" />
<line x1="114.23" y1="522.32" x2="118.43" y2="522.32" stroke="#1a1a1a" stroke-width="1.2" />
<line x1="114.23" y1="550.92" x2="118.43" y2="550.92" stroke="#1a1a1a" stroke-width="1.2" />
<line x1="124.13" y1="511.16" x2="124.13" y2="539.76" stroke="#1a1a1a" stroke-width="1.2" />
<line x1="122.03" y1="511.16" x2="126.23" y2="511.16" stroke="#1a1a1a" stroke-width="1.2" />
<line x1="122.03" y1="539.76" x2="126.23" y2="539.76" stroke="#1a1a1a" stroke-width="1.2" />
<line x1="149.16" y1="577.5" x2="149.16" y2="580.8" stroke="#1a1a1a" stroke-width="1.3" />
<text x="149.16" y="596.1" font-size="10.3" text-anchor="middle" fill="#1a1a1a" stroke="#1a1a1a" font-weight="normal" >1.2</text>
<rect x="137.46" y="528.32" width="7.8" height="48.58" fill="#c9c4c9" stroke="none" stroke-width="0"/>
<rect x="145.26" y="517.17" width="7.8" height="59.73" fill="#d9963c" stroke="none" stroke-width="0"/>
<rect x="153.06" y="506.3" width="7.8" height="70.6" fill="#6b4669" stroke="none" stroke-width="0"/>
<line x1="141.36" y1="514.02" x2="141.36" y2="542.62" stroke="#1a1a1a" stroke-width="1.2" />
<line x1="139.26" y1="514.02" x2="143.46" y2="514.02" stroke="#1a1a1a" stroke-width="1.2" />
<line x1="139.26" y1="542.62" x2="143.46" y2="542.62" stroke="#1a1a1a" stroke-width="1.2" />
<line x1="149.16" y1="502.87" x2="149.16" y2="531.47" stroke="#1a1a1a" stroke-width="1.2" />
<line x1="147.06" y1="502.87" x2="151.26" y2="502.87" stroke="#1a1a1a" stroke-width="1.2" />
<line x1="147.06" y1="531.47" x2="151.26" y2="531.47" stroke="#1a1a1a" stroke-width="1.2" />
<line x1="156.96" y1="492" x2="156.96" y2="520.6" stroke="#1a1a1a" stroke-width="1.2" />
<line x1="154.86" y1="492" x2="159.06" y2="492" stroke="#1a1a1a" stroke-width="1.2" />
<line x1="154.86" y1="520.6" x2="159.06" y2="520.6" stroke="#1a1a1a" stroke-width="1.2" />
<line x1="181.99" y1="577.5" x2="181.99" y2="580.8" stroke="#1a1a1a" stroke-width="1.3" />
<text x="181.99" y="596.1" font-size="10.3" text-anchor="middle" fill="#1a1a1a" stroke="#1a1a1a" font-weight="normal" >2.5</text>
<rect x="170.29" y="482.5" width="7.8" height="94.4" fill="#c9c4c9" stroke="none" stroke-width="0"/>
<rect x="178.09" y="459.4" width="7.8" height="117.5" fill="#d9963c" stroke="none" stroke-width="0"/>
<rect x="185.89" y="484.79" width="7.8" height="92.11" fill="#6b4669" stroke="none" stroke-width="0"/>
<line x1="174.19" y1="468.2" x2="174.19" y2="496.8" stroke="#1a1a1a" stroke-width="1.2" />
<line x1="172.09" y1="468.2" x2="176.29" y2="468.2" stroke="#1a1a1a" stroke-width="1.2" />
<line x1="172.09" y1="496.8" x2="176.29" y2="496.8" stroke="#1a1a1a" stroke-width="1.2" />
<line x1="181.99" y1="445.67" x2="181.99" y2="473.12" stroke="#1a1a1a" stroke-width="1.2" />
<line x1="179.89" y1="445.67" x2="184.09" y2="445.67" stroke="#1a1a1a" stroke-width="1.2" />
<line x1="179.89" y1="473.12" x2="184.09" y2="473.12" stroke="#1a1a1a" stroke-width="1.2" />
<line x1="189.79" y1="470.78" x2="189.79" y2="498.81" stroke="#1a1a1a" stroke-width="1.2" />
<line x1="187.69" y1="470.78" x2="191.89" y2="470.78" stroke="#1a1a1a" stroke-width="1.2" />
<line x1="187.69" y1="498.81" x2="191.89" y2="498.81" stroke="#1a1a1a" stroke-width="1.2" />
<line x1="214.82" y1="577.5" x2="214.82" y2="580.8" stroke="#1a1a1a" stroke-width="1.3" />
<text x="214.82" y="596.1" font-size="10.3" text-anchor="middle" fill="#1a1a1a" stroke="#1a1a1a" font-weight="normal" >4.0</text>
<rect x="203.12" y="445.67" width="7.8" height="131.23" fill="#c9c4c9" stroke="none" stroke-width="0"/>
<rect x="210.92" y="417.24" width="7.8" height="159.66" fill="#d9963c" stroke="none" stroke-width="0"/>
<rect x="218.72" y="438.46" width="7.8" height="138.44" fill="#6b4669" stroke="none" stroke-width="0"/>
<line x1="207.02" y1="431.37" x2="207.02" y2="459.97" stroke="#1a1a1a" stroke-width="1.2" />
<line x1="204.92" y1="431.37" x2="209.12" y2="431.37" stroke="#1a1a1a" stroke-width="1.2" />
<line x1="204.92" y1="459.97" x2="209.12" y2="459.97" stroke="#1a1a1a" stroke-width="1.2" />
<line x1="214.82" y1="402.94" x2="214.82" y2="431.54" stroke="#1a1a1a" stroke-width="1.2" />
<line x1="212.72" y1="402.94" x2="216.92" y2="402.94" stroke="#1a1a1a" stroke-width="1.2" />
<line x1="212.72" y1="431.54" x2="216.92" y2="431.54" stroke="#1a1a1a" stroke-width="1.2" />
<line x1="222.62" y1="424.73" x2="222.62" y2="452.19" stroke="#1a1a1a" stroke-width="1.2" />
<line x1="220.52" y1="424.73" x2="224.72" y2="424.73" stroke="#1a1a1a" stroke-width="1.2" />
<line x1="220.52" y1="452.19" x2="224.72" y2="452.19" stroke="#1a1a1a" stroke-width="1.2" />
<line x1="67.09" y1="577.5" x2="67.09" y2="579.6" stroke="#1a1a1a" stroke-width="1.3" />
<line x1="99.92" y1="577.5" x2="99.92" y2="579.6" stroke="#1a1a1a" stroke-width="1.3" />
<line x1="132.75" y1="577.5" x2="132.75" y2="579.6" stroke="#1a1a1a" stroke-width="1.3" />
<line x1="165.57" y1="577.5" x2="165.57" y2="579.6" stroke="#1a1a1a" stroke-width="1.3" />
<line x1="198.41" y1="577.5" x2="198.41" y2="579.6" stroke="#1a1a1a" stroke-width="1.3" />
<line x1="231.23" y1="577.5" x2="231.23" y2="579.6" stroke="#1a1a1a" stroke-width="1.3" />
<text x="149.9" y="612.6" font-size="12.4" text-anchor="middle" fill="#1a1a1a" stroke="#1a1a1a" font-weight="normal" >Effector concentration (mM)</text>
<text x="20.2" y="483" font-size="12.1" text-anchor="middle" fill="#1a1a1a" stroke="#1a1a1a" transform="rotate(-90 20.2 483)">P<tspan font-size="9.8" dy="3.6">50</tspan><tspan dy="-3.6"> (mmHg)</tspan></text>
<text x="73.2" y="409.2" font-size="9.75" text-anchor="start" fill="#1a1a1a" stroke="#1a1a1a" font-weight="normal" >HbF treated with</text>
<rect x="72.3" y="416.2" width="16.2" height="8" fill="#c9c4c9" stroke="none" stroke-width="0"/>
<text x="92.4" y="423.5" font-size="9.75" text-anchor="start" fill="#1a1a1a" stroke="#1a1a1a" font-weight="normal" textLength="33.2" lengthAdjust="spacingAndGlyphs">2,3-BPG</text>
<rect x="72.3" y="428.2" width="16.2" height="8" fill="#d9963c" stroke="none" stroke-width="0"/>
<text x="92.4" y="435.5" font-size="9.75" text-anchor="start" fill="#1a1a1a" stroke="#1a1a1a" font-weight="normal" >z-But</text>
<rect x="72.3" y="440.2" width="16.2" height="8" fill="#6b4669" stroke="none" stroke-width="0"/>
<text x="92.4" y="447.5" font-size="9.75" text-anchor="start" fill="#1a1a1a" stroke="#1a1a1a" font-weight="normal" >z-Lig</text>
<line x1="60" y1="631.2" x2="60" y2="812.9" stroke="#1a1a1a" stroke-width="1.6" />
<line x1="59.4" y1="812.3" x2="252.3" y2="812.3" stroke="#1a1a1a" stroke-width="1.6" />
<line x1="55.8" y1="812.3" x2="60" y2="812.3" stroke="#1a1a1a" stroke-width="1.3" />
<text x="51.2" y="815.95" font-size="10.3" text-anchor="end" fill="#1a1a1a" stroke="#1a1a1a" font-weight="normal" >14</text>
<line x1="57.5" y1="799.65" x2="60" y2="799.65" stroke="#1a1a1a" stroke-width="1.3" />
<line x1="55.8" y1="787" x2="60" y2="787" stroke="#1a1a1a" stroke-width="1.3" />
<text x="51.2" y="790.65" font-size="10.3" text-anchor="end" fill="#1a1a1a" stroke="#1a1a1a" font-weight="normal" >15</text>
<line x1="57.5" y1="774.35" x2="60" y2="774.35" stroke="#1a1a1a" stroke-width="1.3" />
<line x1="55.8" y1="761.7" x2="60" y2="761.7" stroke="#1a1a1a" stroke-width="1.3" />
<text x="51.2" y="765.35" font-size="10.3" text-anchor="end" fill="#1a1a1a" stroke="#1a1a1a" font-weight="normal" >16</text>
<line x1="57.5" y1="749.05" x2="60" y2="749.05" stroke="#1a1a1a" stroke-width="1.3" />
<line x1="55.8" y1="736.4" x2="60" y2="736.4" stroke="#1a1a1a" stroke-width="1.3" />
<text x="51.2" y="740.05" font-size="10.3" text-anchor="end" fill="#1a1a1a" stroke="#1a1a1a" font-weight="normal" >17</text>
<line x1="57.5" y1="723.75" x2="60" y2="723.75" stroke="#1a1a1a" stroke-width="1.3" />
<line x1="55.8" y1="711.1" x2="60" y2="711.1" stroke="#1a1a1a" stroke-width="1.3" />
<text x="51.2" y="714.75" font-size="10.3" text-anchor="end" fill="#1a1a1a" stroke="#1a1a1a" font-weight="normal" >18</text>
<line x1="57.5" y1="698.45" x2="60" y2="698.45" stroke="#1a1a1a" stroke-width="1.3" />
<line x1="55.8" y1="685.8" x2="60" y2="685.8" stroke="#1a1a1a" stroke-width="1.3" />
<text x="51.2" y="689.45" font-size="10.3" text-anchor="end" fill="#1a1a1a" stroke="#1a1a1a" font-weight="normal" >19</text>
<line x1="57.5" y1="673.15" x2="60" y2="673.15" stroke="#1a1a1a" stroke-width="1.3" />
<line x1="55.8" y1="660.5" x2="60" y2="660.5" stroke="#1a1a1a" stroke-width="1.3" />
<text x="51.2" y="664.15" font-size="10.3" text-anchor="end" fill="#1a1a1a" stroke="#1a1a1a" font-weight="normal" >20</text>
<line x1="57.5" y1="647.85" x2="60" y2="647.85" stroke="#1a1a1a" stroke-width="1.3" />
<line x1="55.8" y1="635.2" x2="60" y2="635.2" stroke="#1a1a1a" stroke-width="1.3" />
<text x="51.2" y="638.85" font-size="10.3" text-anchor="end" fill="#1a1a1a" stroke="#1a1a1a" font-weight="normal" >21</text>
<line x1="69.6" y1="812.3" x2="69.6" y2="815.6" stroke="#1a1a1a" stroke-width="1.3" />
<line x1="88.86" y1="812.3" x2="88.86" y2="815.6" stroke="#1a1a1a" stroke-width="1.3" />
<line x1="108.12" y1="812.3" x2="108.12" y2="815.6" stroke="#1a1a1a" stroke-width="1.3" />
<line x1="127.38" y1="812.3" x2="127.38" y2="815.6" stroke="#1a1a1a" stroke-width="1.3" />
<line x1="146.64" y1="812.3" x2="146.64" y2="815.6" stroke="#1a1a1a" stroke-width="1.3" />
<line x1="165.9" y1="812.3" x2="165.9" y2="815.6" stroke="#1a1a1a" stroke-width="1.3" />
<line x1="185.16" y1="812.3" x2="185.16" y2="815.6" stroke="#1a1a1a" stroke-width="1.3" />
<line x1="204.42" y1="812.3" x2="204.42" y2="815.6" stroke="#1a1a1a" stroke-width="1.3" />
<line x1="223.68" y1="812.3" x2="223.68" y2="815.6" stroke="#1a1a1a" stroke-width="1.3" />
<line x1="242.94" y1="812.3" x2="242.94" y2="815.6" stroke="#1a1a1a" stroke-width="1.3" />
<rect x="82.41" y="797.2" width="12.9" height="14.5" fill="#507560" stroke="#436b55" stroke-width="0.8"/>
<rect x="101.67" y="689.5" width="12.9" height="122.2" fill="#507560" stroke="#436b55" stroke-width="0.8"/>
<rect x="140.19" y="797.1" width="12.9" height="14.6" fill="#507560" stroke="#436b55" stroke-width="0.8"/>
<rect x="159.45" y="747.2" width="12.9" height="64.5" fill="#507560" stroke="#436b55" stroke-width="0.8"/>
<rect x="178.71" y="695" width="12.9" height="116.7" fill="#507560" stroke="#436b55" stroke-width="0.8"/>
<rect x="197.97" y="672" width="12.9" height="139.7" fill="#507560" stroke="#436b55" stroke-width="0.8"/>
<rect x="217.23" y="692.5" width="12.9" height="119.2" fill="#507560" stroke="#436b55" stroke-width="0.8"/>
<line x1="88.86" y1="791.2" x2="88.86" y2="804" stroke="#1a1a1a" stroke-width="1.2" />
<line x1="86.76" y1="791.2" x2="90.96" y2="791.2" stroke="#1a1a1a" stroke-width="1.2" />
<line x1="86.76" y1="804" x2="90.96" y2="804" stroke="#1a1a1a" stroke-width="1.2" />
<line x1="108.12" y1="683.7" x2="108.12" y2="696.3" stroke="#1a1a1a" stroke-width="1.2" />
<line x1="106.02" y1="683.7" x2="110.22" y2="683.7" stroke="#1a1a1a" stroke-width="1.2" />
<line x1="106.02" y1="696.3" x2="110.22" y2="696.3" stroke="#1a1a1a" stroke-width="1.2" />
<line x1="146.64" y1="791.1" x2="146.64" y2="803.7" stroke="#1a1a1a" stroke-width="1.2" />
<line x1="144.54" y1="791.1" x2="148.74" y2="791.1" stroke="#1a1a1a" stroke-width="1.2" />
<line x1="144.54" y1="803.7" x2="148.74" y2="803.7" stroke="#1a1a1a" stroke-width="1.2" />
<line x1="165.9" y1="741.1" x2="165.9" y2="753.9" stroke="#1a1a1a" stroke-width="1.2" />
<line x1="163.8" y1="741.1" x2="168" y2="741.1" stroke="#1a1a1a" stroke-width="1.2" />
<line x1="163.8" y1="753.9" x2="168" y2="753.9" stroke="#1a1a1a" stroke-width="1.2" />
<line x1="185.16" y1="689.5" x2="185.16" y2="701.8" stroke="#1a1a1a" stroke-width="1.2" />
<line x1="183.06" y1="689.5" x2="187.26" y2="689.5" stroke="#1a1a1a" stroke-width="1.2" />
<line x1="183.06" y1="701.8" x2="187.26" y2="701.8" stroke="#1a1a1a" stroke-width="1.2" />
<line x1="204.42" y1="665.7" x2="204.42" y2="678.8" stroke="#1a1a1a" stroke-width="1.2" />
<line x1="202.32" y1="665.7" x2="206.52" y2="665.7" stroke="#1a1a1a" stroke-width="1.2" />
<line x1="202.32" y1="678.8" x2="206.52" y2="678.8" stroke="#1a1a1a" stroke-width="1.2" />
<line x1="223.68" y1="686.2" x2="223.68" y2="699.3" stroke="#1a1a1a" stroke-width="1.2" />
<line x1="221.58" y1="686.2" x2="225.78" y2="686.2" stroke="#1a1a1a" stroke-width="1.2" />
<line x1="221.58" y1="699.3" x2="225.78" y2="699.3" stroke="#1a1a1a" stroke-width="1.2" />
<line x1="61" y1="689.4" x2="231.5" y2="689.4" stroke="#1a1a1a" stroke-width="1.2" stroke-dasharray="1.1 1.1"/>
<polyline points="78.5,686.8 78.5,675.5 113.3,675.5 113.3,686.8" fill="none" stroke="#1a1a1a" stroke-width="1.2" stroke-linejoin="round" />
<polyline points="141.75,679.3 141.75,664.5 230.75,664.5 230.75,679.3" fill="none" stroke="#1a1a1a" stroke-width="1.2" stroke-linejoin="round" />
<text x="72.3" y="668.7" font-size="9.6" text-anchor="start" fill="#1a1a1a" stroke="#1a1a1a" font-weight="normal" >HbA Group</text>
<text x="163.1" y="658" font-size="9.6" text-anchor="start" fill="#1a1a1a" stroke="#1a1a1a" font-weight="normal" >HbF Group</text>
<text x="20.2" y="722" font-size="12.1" text-anchor="middle" fill="#1a1a1a" stroke="#1a1a1a" transform="rotate(-90 20.2 722)">P<tspan font-size="9.8" dy="3.6">50</tspan><tspan dy="-3.6"> (mmHg)</tspan></text>
<text x="93.86" y="829.8" font-size="10.05" text-anchor="end" fill="#1a1a1a" stroke="#1a1a1a" transform="rotate(-34.5 93.86 829.8)">(i) HbA</text>
<text x="113.12" y="829.8" font-size="10.05" text-anchor="end" fill="#1a1a1a" stroke="#1a1a1a" transform="rotate(-34.5 113.12 829.8)">(ii) HbA + BPG (4mM)</text>
<text x="151.64" y="829.8" font-size="10.05" text-anchor="end" fill="#1a1a1a" stroke="#1a1a1a" transform="rotate(-34.5 151.64 829.8)">(iii) HbF</text>
<text x="170.9" y="829.8" font-size="10.05" text-anchor="end" fill="#1a1a1a" stroke="#1a1a1a" transform="rotate(-34.5 170.9 829.8)">(iv) HbF + BPG (4mM)</text>
<text x="190.16" y="829.8" font-size="10.05" text-anchor="end" fill="#1a1a1a" stroke="#1a1a1a" transform="rotate(-34.5 190.16 829.8)">(v) HbF + BPG (4mM) + But (2.5mM)</text>
<text x="209.42" y="829.8" font-size="10.05" text-anchor="end" fill="#1a1a1a" stroke="#1a1a1a" transform="rotate(-34.5 209.42 829.8)">(vi) HbF + BPG (4mM) + But (4mM)</text>
<text x="228.68" y="829.8" font-size="10.05" text-anchor="end" fill="#1a1a1a" stroke="#1a1a1a" transform="rotate(-34.5 228.68 829.8)">(vii) HbF + BPG (4mM) + Lig (4mM)</text>
<line x1="315.2" y1="396.9" x2="315.2" y2="578.3" stroke="#1a1a1a" stroke-width="1.6" />
<line x1="314.6" y1="577.7" x2="501.5" y2="577.7" stroke="#1a1a1a" stroke-width="1.6" />
<line x1="311" y1="577.7" x2="315.2" y2="577.7" stroke="#1a1a1a" stroke-width="1.3" />
<text x="307.2" y="581.35" font-size="10.3" text-anchor="end" fill="#1a1a1a" stroke="#1a1a1a" font-weight="normal" >14</text>
<line x1="313" y1="565.25" x2="315.2" y2="565.25" stroke="#1a1a1a" stroke-width="1.3" />
<line x1="311" y1="552.8" x2="315.2" y2="552.8" stroke="#1a1a1a" stroke-width="1.3" />
<text x="307.2" y="556.45" font-size="10.3" text-anchor="end" fill="#1a1a1a" stroke="#1a1a1a" font-weight="normal" >15</text>
<line x1="313" y1="540.35" x2="315.2" y2="540.35" stroke="#1a1a1a" stroke-width="1.3" />
<line x1="311" y1="527.9" x2="315.2" y2="527.9" stroke="#1a1a1a" stroke-width="1.3" />
<text x="307.2" y="531.55" font-size="10.3" text-anchor="end" fill="#1a1a1a" stroke="#1a1a1a" font-weight="normal" >16</text>
<line x1="313" y1="515.45" x2="315.2" y2="515.45" stroke="#1a1a1a" stroke-width="1.3" />
<line x1="311" y1="503" x2="315.2" y2="503" stroke="#1a1a1a" stroke-width="1.3" />
<text x="307.2" y="506.65" font-size="10.3" text-anchor="end" fill="#1a1a1a" stroke="#1a1a1a" font-weight="normal" >17</text>
<line x1="313" y1="490.55" x2="315.2" y2="490.55" stroke="#1a1a1a" stroke-width="1.3" />
<line x1="311" y1="478.1" x2="315.2" y2="478.1" stroke="#1a1a1a" stroke-width="1.3" />
<text x="307.2" y="481.75" font-size="10.3" text-anchor="end" fill="#1a1a1a" stroke="#1a1a1a" font-weight="normal" >18</text>
<line x1="313" y1="465.65" x2="315.2" y2="465.65" stroke="#1a1a1a" stroke-width="1.3" />
<line x1="311" y1="453.2" x2="315.2" y2="453.2" stroke="#1a1a1a" stroke-width="1.3" />
<text x="307.2" y="456.85" font-size="10.3" text-anchor="end" fill="#1a1a1a" stroke="#1a1a1a" font-weight="normal" >19</text>
<line x1="313" y1="440.75" x2="315.2" y2="440.75" stroke="#1a1a1a" stroke-width="1.3" />
<line x1="311" y1="428.3" x2="315.2" y2="428.3" stroke="#1a1a1a" stroke-width="1.3" />
<text x="307.2" y="431.95" font-size="10.3" text-anchor="end" fill="#1a1a1a" stroke="#1a1a1a" font-weight="normal" >20</text>
<line x1="313" y1="415.85" x2="315.2" y2="415.85" stroke="#1a1a1a" stroke-width="1.3" />
<line x1="311" y1="403.4" x2="315.2" y2="403.4" stroke="#1a1a1a" stroke-width="1.3" />
<text x="307.2" y="407.05" font-size="10.3" text-anchor="end" fill="#1a1a1a" stroke="#1a1a1a" font-weight="normal" >21</text>
<line x1="327.7" y1="577.7" x2="327.7" y2="581" stroke="#1a1a1a" stroke-width="1.3" />
<text x="327.7" y="595.8" font-size="10.3" text-anchor="middle" fill="#1a1a1a" stroke="#1a1a1a" font-weight="normal" >0</text>
<line x1="345.47" y1="577.7" x2="345.47" y2="579.8" stroke="#1a1a1a" stroke-width="1.3" />
<line x1="363.25" y1="577.7" x2="363.25" y2="581" stroke="#1a1a1a" stroke-width="1.3" />
<text x="363.25" y="595.8" font-size="10.3" text-anchor="middle" fill="#1a1a1a" stroke="#1a1a1a" font-weight="normal" >1</text>
<line x1="381.02" y1="577.7" x2="381.02" y2="579.8" stroke="#1a1a1a" stroke-width="1.3" />
<line x1="398.8" y1="577.7" x2="398.8" y2="581" stroke="#1a1a1a" stroke-width="1.3" />
<text x="398.8" y="595.8" font-size="10.3" text-anchor="middle" fill="#1a1a1a" stroke="#1a1a1a" font-weight="normal" >2</text>
<line x1="416.57" y1="577.7" x2="416.57" y2="579.8" stroke="#1a1a1a" stroke-width="1.3" />
<line x1="434.35" y1="577.7" x2="434.35" y2="581" stroke="#1a1a1a" stroke-width="1.3" />
<text x="434.35" y="595.8" font-size="10.3" text-anchor="middle" fill="#1a1a1a" stroke="#1a1a1a" font-weight="normal" >3</text>
<line x1="452.12" y1="577.7" x2="452.12" y2="579.8" stroke="#1a1a1a" stroke-width="1.3" />
<line x1="469.9" y1="577.7" x2="469.9" y2="581" stroke="#1a1a1a" stroke-width="1.3" />
<text x="469.9" y="595.8" font-size="10.3" text-anchor="middle" fill="#1a1a1a" stroke="#1a1a1a" font-weight="normal" >4</text>
<line x1="487.67" y1="577.7" x2="487.67" y2="579.8" stroke="#1a1a1a" stroke-width="1.3" />
<polyline points="327.7,565 349.03,554.8 370.36,549.5 416.57,529.9 469.9,513.1" fill="none" stroke="#858585" stroke-width="1.65" stroke-linejoin="round" />
<rect x="324.5" y="561.8" width="6.4" height="6.4" fill="#858585" stroke="none" stroke-width="0"/>
<rect x="345.83" y="551.6" width="6.4" height="6.4" fill="#858585" stroke="none" stroke-width="0"/>
<rect x="367.16" y="546.3" width="6.4" height="6.4" fill="#858585" stroke="none" stroke-width="0"/>
<rect x="413.38" y="526.7" width="6.4" height="6.4" fill="#858585" stroke="none" stroke-width="0"/>
<rect x="466.7" y="509.9" width="6.4" height="6.4" fill="#858585" stroke="none" stroke-width="0"/>
<polyline points="327.7,553.6 328.41,553.1 329.12,552.61 329.83,552.11 330.54,551.62 331.25,551.13 331.97,550.64 332.68,550.15 333.39,549.66 334.1,549.18 334.81,548.69 335.52,548.21 336.23,547.74 336.94,547.26 337.65,546.79 338.37,546.33 339.08,545.86 339.79,545.41 340.5,544.95 341.21,544.51 341.92,544.07 342.63,543.63 343.34,543.2 344.05,542.77 344.76,542.36 345.47,541.94 346.19,541.54 346.9,541.14 347.61,540.75 348.32,540.37 349.03,540 349.74,539.64 350.45,539.28 351.16,538.93 351.87,538.59 352.58,538.25 353.3,537.93 354.01,537.61 354.72,537.29 355.43,536.99 356.14,536.68 356.85,536.39 357.56,536.1 358.27,535.81 358.98,535.53 359.69,535.26 360.41,534.99 361.12,534.72 361.83,534.46 362.54,534.2 363.25,533.94 363.96,533.69 364.67,533.44 365.38,533.19 366.09,532.94 366.81,532.7 367.52,532.46 368.23,532.22 368.94,531.98 369.65,531.74 370.36,531.5 371.9,530.98 373.44,530.47 374.98,529.96 376.52,529.45 378.06,528.94 379.6,528.44 381.14,527.94 382.68,527.44 384.22,526.94 385.76,526.45 387.31,525.96 388.85,525.48 390.39,525 391.93,524.52 393.47,524.05 395.01,523.59 396.55,523.13 398.09,522.67 399.63,522.22 401.17,521.78 402.71,521.34 404.25,520.91 405.79,520.48 407.33,520.06 408.87,519.65 410.41,519.24 411.95,518.85 413.49,518.46 415.03,518.07 416.57,517.7 418.35,517.28 420.13,516.87 421.91,516.47 423.69,516.08 425.46,515.7 427.24,515.32 429.02,514.96 430.79,514.61 432.57,514.26 434.35,513.92 436.13,513.59 437.9,513.27 439.68,512.95 441.46,512.64 443.24,512.33 445.01,512.03 446.79,511.73 448.57,511.44 450.35,511.16 452.12,510.88 453.9,510.6 455.68,510.32 457.46,510.05 459.23,509.78 461.01,509.52 462.79,509.25 464.57,508.99 466.34,508.72 468.12,508.46 469.9,508.2" fill="none" stroke="#63a94a" stroke-width="1.65" stroke-linejoin="round" />
<circle cx="327.7" cy="553.6" r="3.5" fill="#63a94a"/>
<circle cx="349.03" cy="540" r="3.5" fill="#63a94a"/>
<circle cx="370.36" cy="531.5" r="3.5" fill="#63a94a"/>
<circle cx="416.57" cy="517.7" r="3.5" fill="#63a94a"/>
<circle cx="469.9" cy="508.2" r="3.5" fill="#63a94a"/>
<polyline points="327.7,544 328.41,543.59 329.12,543.17 329.83,542.76 330.54,542.35 331.25,541.93 331.97,541.52 332.68,541.1 333.39,540.68 334.1,540.27 334.81,539.85 335.52,539.43 336.23,539.01 336.94,538.59 337.65,538.16 338.37,537.74 339.08,537.31 339.79,536.88 340.5,536.45 341.21,536.02 341.92,535.59 342.63,535.15 343.34,534.71 344.05,534.27 344.76,533.83 345.47,533.38 346.19,532.93 346.9,532.48 347.61,532.02 348.32,531.56 349.03,531.1 349.74,530.63 350.45,530.17 351.16,529.7 351.87,529.22 352.58,528.75 353.3,528.27 354.01,527.79 354.72,527.32 355.43,526.84 356.14,526.36 356.85,525.88 357.56,525.4 358.27,524.93 358.98,524.45 359.69,523.98 360.41,523.51 361.12,523.05 361.83,522.58 362.54,522.12 363.25,521.66 363.96,521.21 364.67,520.77 365.38,520.32 366.09,519.89 366.81,519.45 367.52,519.03 368.23,518.61 368.94,518.2 369.65,517.8 370.36,517.4 371.9,516.57 373.44,515.78 374.98,515.02 376.52,514.29 378.06,513.6 379.6,512.95 381.14,512.32 382.68,511.73 384.22,511.16 385.76,510.62 387.31,510.11 388.85,509.62 390.39,509.16 391.93,508.72 393.47,508.31 395.01,507.91 396.55,507.54 398.09,507.19 399.63,506.85 401.17,506.53 402.71,506.22 404.25,505.93 405.79,505.66 407.33,505.39 408.87,505.14 410.41,504.9 411.95,504.66 413.49,504.43 415.03,504.21 416.57,504 418.35,503.76 420.13,503.52 421.91,503.29 423.69,503.06 425.46,502.84 427.24,502.63 429.02,502.42 430.79,502.21 432.57,502.01 434.35,501.81 436.13,501.62 437.9,501.42 439.68,501.24 441.46,501.05 443.24,500.87 445.01,500.69 446.79,500.52 448.57,500.35 450.35,500.18 452.12,500.01 453.9,499.84 455.68,499.68 457.46,499.51 459.23,499.35 461.01,499.19 462.79,499.03 464.57,498.87 466.34,498.72 468.12,498.56 469.9,498.4" fill="none" stroke="#e0962f" stroke-width="1.65" stroke-linejoin="round" />
<polygon points="323.1,547.85 332.3,547.85 327.7,540.15" fill="#e0962f" stroke="none" stroke-width="0"/>
<polygon points="344.43,534.95 353.63,534.95 349.03,527.25" fill="#e0962f" stroke="none" stroke-width="0"/>
<polygon points="365.76,521.25 374.96,521.25 370.36,513.55" fill="#e0962f" stroke="none" stroke-width="0"/>
<polygon points="411.97,507.85 421.18,507.85 416.57,500.15" fill="#e0962f" stroke="none" stroke-width="0"/>
<polygon points="465.3,502.25 474.5,502.25 469.9,494.55" fill="#e0962f" stroke="none" stroke-width="0"/>
<polyline points="327.7,521 328.41,520.54 329.12,520.07 329.83,519.61 330.54,519.15 331.25,518.68 331.97,518.22 332.68,517.75 333.39,517.28 334.1,516.82 334.81,516.35 335.52,515.88 336.23,515.41 336.94,514.93 337.65,514.46 338.37,513.99 339.08,513.51 339.79,513.03 340.5,512.55 341.21,512.07 341.92,511.58 342.63,511.1 343.34,510.61 344.05,510.12 344.76,509.62 345.47,509.13 346.19,508.63 346.9,508.12 347.61,507.62 348.32,507.11 349.03,506.6 349.74,506.09 350.45,505.57 351.16,505.05 351.87,504.52 352.58,504 353.3,503.47 354.01,502.95 354.72,502.42 355.43,501.89 356.14,501.36 356.85,500.83 357.56,500.31 358.27,499.78 358.98,499.25 359.69,498.73 360.41,498.21 361.12,497.69 361.83,497.17 362.54,496.66 363.25,496.14 363.96,495.64 364.67,495.13 365.38,494.64 366.09,494.14 366.81,493.65 367.52,493.17 368.23,492.69 368.94,492.22 369.65,491.76 370.36,491.3 371.9,490.33 373.44,489.4 374.98,488.5 376.52,487.63 378.06,486.79 379.6,485.98 381.14,485.2 382.68,484.44 384.22,483.72 385.76,483.02 387.31,482.34 388.85,481.69 390.39,481.07 391.93,480.47 393.47,479.88 395.01,479.32 396.55,478.78 398.09,478.26 399.63,477.76 401.17,477.27 402.71,476.81 404.25,476.35 405.79,475.92 407.33,475.49 408.87,475.08 410.41,474.68 411.95,474.3 413.49,473.92 415.03,473.56 416.57,473.2 418.35,472.8 420.13,472.41 421.91,472.03 423.69,471.65 425.46,471.29 427.24,470.94 429.02,470.59 430.79,470.26 432.57,469.93 434.35,469.61 436.13,469.29 437.9,468.98 439.68,468.68 441.46,468.39 443.24,468.1 445.01,467.81 446.79,467.53 448.57,467.26 450.35,466.99 452.12,466.72 453.9,466.46 455.68,466.2 457.46,465.95 459.23,465.69 461.01,465.44 462.79,465.19 464.57,464.94 466.34,464.69 468.12,464.45 469.9,464.2" fill="none" stroke="#b3b694" stroke-width="1.65" stroke-linejoin="round" />
<polygon points="323.4,517.15 332,517.15 327.7,524.85" fill="#b3b694" stroke="none" stroke-width="0"/>
<polygon points="344.73,502.75 353.33,502.75 349.03,510.45" fill="#b3b694" stroke="none" stroke-width="0"/>
<polygon points="366.06,487.45 374.66,487.45 370.36,495.15" fill="#b3b694" stroke="none" stroke-width="0"/>
<polygon points="412.27,469.35 420.88,469.35 416.57,477.05" fill="#b3b694" stroke="none" stroke-width="0"/>
<polygon points="465.6,460.35 474.2,460.35 469.9,468.05" fill="#b3b694" stroke="none" stroke-width="0"/>
<polyline points="327.7,514.2 328.76,512.6 329.8,511.06 330.82,509.56 331.83,508.1 332.82,506.69 333.8,505.33 334.76,504.01 335.7,502.73 336.64,501.49 337.55,500.29 338.46,499.14 339.35,498.02 340.23,496.94 341.1,495.9 341.96,494.9 342.81,493.93 343.65,493 344.47,492.1 345.29,491.24 346.1,490.4 346.9,489.6 347.69,488.83 348.48,488.09 349.26,487.38 350.03,486.69 350.8,486.04 351.56,485.41 352.31,484.8 353.06,484.22 353.81,483.67 354.55,483.13 355.29,482.62 356.03,482.13 356.76,481.66 357.49,481.21 358.22,480.78 358.95,480.37 359.68,479.97 360.41,479.59 361.14,479.22 361.87,478.87 362.61,478.53 363.34,478.21 364.08,477.89 364.82,477.59 365.56,477.3 366.31,477.02 367.06,476.74 367.82,476.47 368.58,476.21 369.35,475.96 370.12,475.71 370.9,475.46 371.69,475.22 372.48,474.98 373.28,474.74 374.09,474.5 374.91,474.26 375.74,474.02 376.58,473.77 377.43,473.53 378.29,473.28 379.16,473.03 380.05,472.77 380.95,472.51 381.86,472.25 382.78,471.98 383.72,471.7 384.68,471.42 385.65,471.13 386.64,470.84 387.65,470.53 388.68,470.22 389.72,469.91 390.79,469.58 391.87,469.25 392.98,468.9 394.11,468.55 395.26,468.19 396.43,467.82 397.63,467.44 398.85,467.04 400.09,466.64 401.37,466.22 402.67,465.79 403.99,465.35 405.34,464.9 406.73,464.43 408.14,463.95 409.58,463.46 411.05,462.95 412.55,462.43 414.08,461.89 415.65,461.34 417.25,460.77 418.88,460.18 420.55,459.58 422.25,458.96 423.98,458.33 425.76,457.67 427.57,457 429.42,456.31 431.31,455.6 433.23,454.87 435.2,454.13 437.2,453.36 439.25,452.57 441.34,451.76 443.47,450.93 445.64,450.08 447.86,449.21 450.12,448.31 452.43,447.39 454.79,446.45 457.18,445.49 459.63,444.5 462.12,443.49 464.67,442.45 467.26,441.39 469.9,440.3" fill="none" stroke="#5e3a60" stroke-width="1.65" stroke-linejoin="round" />
<polygon points="327.7,509.9 332,514.2 327.7,518.5 323.4,514.2" fill="#5e3a60" stroke="none" stroke-width="0"/>
<polygon points="349.03,477.5 353.33,481.8 349.03,486.1 344.73,481.8" fill="#5e3a60" stroke="none" stroke-width="0"/>
<polygon points="370.36,471.2 374.66,475.5 370.36,479.8 366.06,475.5" fill="#5e3a60" stroke="none" stroke-width="0"/>
<polygon points="416.57,458 420.88,462.3 416.57,466.6 412.27,462.3" fill="#5e3a60" stroke="none" stroke-width="0"/>
<polygon points="469.9,436 474.2,440.3 469.9,444.6 465.6,440.3" fill="#5e3a60" stroke="none" stroke-width="0"/>
<text x="327.5" y="417.9" font-size="9.75" text-anchor="start" fill="#1a1a1a" stroke="#1a1a1a" font-weight="normal" >HbF co-treated with</text>
<text x="327.5" y="430.3" font-size="9.75" text-anchor="start" fill="#1a1a1a" stroke="#1a1a1a" font-weight="normal" >z-But / 2,3-BPG</text>
<text x="476.6" y="436.3" font-size="9.75" text-anchor="start" fill="#5e3a60" stroke="#5e3a60" font-weight="normal" >4 mM</text>
<text x="476.6" y="460.6" font-size="9.75" text-anchor="start" fill="#b3b694" stroke="#b3b694" font-weight="normal" >2.5 mM</text>
<text x="476.6" y="487.1" font-size="9.75" text-anchor="start" fill="#e0962f" stroke="#e0962f" font-weight="normal" >1.2 mM</text>
<text x="476.6" y="511.3" font-size="9.75" text-anchor="start" fill="#63a94a" stroke="#63a94a" font-weight="normal" >0.6 mM</text>
<text x="451.2" y="533.4" font-size="9.75" text-anchor="start" fill="#858585" stroke="#858585" font-weight="normal" textLength="55.6" lengthAdjust="spacingAndGlyphs">no phthalide</text>
<text x="372" y="613.3" font-size="12.3" text-anchor="start" fill="#1a1a1a" stroke="#1a1a1a" font-weight="normal" textLength="74.5" lengthAdjust="spacingAndGlyphs">2,3-BPG (mM)</text>
<text x="283.3" y="487.4" font-size="12.1" text-anchor="middle" fill="#1a1a1a" stroke="#1a1a1a" transform="rotate(-90 283.3 487.4)">P<tspan font-size="9.8" dy="3.6">50</tspan><tspan dy="-3.6"> (mmHg)</tspan></text>
<line x1="317" y1="640.5" x2="317" y2="812.9" stroke="#1a1a1a" stroke-width="1.6" />
<line x1="316.4" y1="812.3" x2="506.2" y2="812.3" stroke="#1a1a1a" stroke-width="1.6" />
<line x1="312.8" y1="812.3" x2="317" y2="812.3" stroke="#1a1a1a" stroke-width="1.3" />
<text x="309" y="815.95" font-size="10.3" text-anchor="end" fill="#1a1a1a" stroke="#1a1a1a" font-weight="normal" >14</text>
<line x1="315" y1="800.3" x2="317" y2="800.3" stroke="#1a1a1a" stroke-width="1.3" />
<line x1="312.8" y1="788.3" x2="317" y2="788.3" stroke="#1a1a1a" stroke-width="1.3" />
<text x="309" y="791.95" font-size="10.3" text-anchor="end" fill="#1a1a1a" stroke="#1a1a1a" font-weight="normal" >15</text>
<line x1="315" y1="776.3" x2="317" y2="776.3" stroke="#1a1a1a" stroke-width="1.3" />
<line x1="312.8" y1="764.3" x2="317" y2="764.3" stroke="#1a1a1a" stroke-width="1.3" />
<text x="309" y="767.95" font-size="10.3" text-anchor="end" fill="#1a1a1a" stroke="#1a1a1a" font-weight="normal" >16</text>
<line x1="315" y1="752.3" x2="317" y2="752.3" stroke="#1a1a1a" stroke-width="1.3" />
<line x1="312.8" y1="740.3" x2="317" y2="740.3" stroke="#1a1a1a" stroke-width="1.3" />
<text x="309" y="743.95" font-size="10.3" text-anchor="end" fill="#1a1a1a" stroke="#1a1a1a" font-weight="normal" >17</text>
<line x1="315" y1="728.3" x2="317" y2="728.3" stroke="#1a1a1a" stroke-width="1.3" />
<line x1="312.8" y1="716.3" x2="317" y2="716.3" stroke="#1a1a1a" stroke-width="1.3" />
<text x="309" y="719.95" font-size="10.3" text-anchor="end" fill="#1a1a1a" stroke="#1a1a1a" font-weight="normal" >18</text>
<line x1="315" y1="704.3" x2="317" y2="704.3" stroke="#1a1a1a" stroke-width="1.3" />
<line x1="312.8" y1="692.3" x2="317" y2="692.3" stroke="#1a1a1a" stroke-width="1.3" />
<text x="309" y="695.95" font-size="10.3" text-anchor="end" fill="#1a1a1a" stroke="#1a1a1a" font-weight="normal" >19</text>
<line x1="315" y1="680.3" x2="317" y2="680.3" stroke="#1a1a1a" stroke-width="1.3" />
<line x1="312.8" y1="668.3" x2="317" y2="668.3" stroke="#1a1a1a" stroke-width="1.3" />
<text x="309" y="671.95" font-size="10.3" text-anchor="end" fill="#1a1a1a" stroke="#1a1a1a" font-weight="normal" >20</text>
<line x1="315" y1="656.3" x2="317" y2="656.3" stroke="#1a1a1a" stroke-width="1.3" />
<line x1="312.8" y1="644.3" x2="317" y2="644.3" stroke="#1a1a1a" stroke-width="1.3" />
<text x="309" y="647.95" font-size="10.3" text-anchor="end" fill="#1a1a1a" stroke="#1a1a1a" font-weight="normal" >21</text>
<line x1="329.5" y1="812.3" x2="329.5" y2="815.6" stroke="#1a1a1a" stroke-width="1.3" />
<text x="329.5" y="830.5" font-size="10.3" text-anchor="middle" fill="#1a1a1a" stroke="#1a1a1a" font-weight="normal" >0</text>
<line x1="347.62" y1="812.3" x2="347.62" y2="814.4" stroke="#1a1a1a" stroke-width="1.3" />
<line x1="365.75" y1="812.3" x2="365.75" y2="815.6" stroke="#1a1a1a" stroke-width="1.3" />
<text x="365.75" y="830.5" font-size="10.3" text-anchor="middle" fill="#1a1a1a" stroke="#1a1a1a" font-weight="normal" >1</text>
<line x1="383.88" y1="812.3" x2="383.88" y2="814.4" stroke="#1a1a1a" stroke-width="1.3" />
<line x1="402" y1="812.3" x2="402" y2="815.6" stroke="#1a1a1a" stroke-width="1.3" />
<text x="402" y="830.5" font-size="10.3" text-anchor="middle" fill="#1a1a1a" stroke="#1a1a1a" font-weight="normal" >2</text>
<line x1="420.12" y1="812.3" x2="420.12" y2="814.4" stroke="#1a1a1a" stroke-width="1.3" />
<line x1="438.25" y1="812.3" x2="438.25" y2="815.6" stroke="#1a1a1a" stroke-width="1.3" />
<text x="438.25" y="830.5" font-size="10.3" text-anchor="middle" fill="#1a1a1a" stroke="#1a1a1a" font-weight="normal" >3</text>
<line x1="456.38" y1="812.3" x2="456.38" y2="814.4" stroke="#1a1a1a" stroke-width="1.3" />
<line x1="474.5" y1="812.3" x2="474.5" y2="815.6" stroke="#1a1a1a" stroke-width="1.3" />
<text x="474.5" y="830.5" font-size="10.3" text-anchor="middle" fill="#1a1a1a" stroke="#1a1a1a" font-weight="normal" >4</text>
<line x1="492.62" y1="812.3" x2="492.62" y2="814.4" stroke="#1a1a1a" stroke-width="1.3" />
<polyline points="329.5,800 351.25,790.3 373,785.4 420.12,766.6 474.5,751.1" fill="none" stroke="#858585" stroke-width="1.65" stroke-linejoin="round" />
<rect x="326.3" y="796.8" width="6.4" height="6.4" fill="#858585" stroke="none" stroke-width="0"/>
<rect x="348.05" y="787.1" width="6.4" height="6.4" fill="#858585" stroke="none" stroke-width="0"/>
<rect x="369.8" y="782.2" width="6.4" height="6.4" fill="#858585" stroke="none" stroke-width="0"/>
<rect x="416.93" y="763.4" width="6.4" height="6.4" fill="#858585" stroke="none" stroke-width="0"/>
<rect x="471.3" y="747.9" width="6.4" height="6.4" fill="#858585" stroke="none" stroke-width="0"/>
<polyline points="329.5,765.7 330.23,765.7 330.95,765.71 331.68,765.71 332.4,765.71 333.12,765.71 333.85,765.71 334.57,765.7 335.3,765.69 336.02,765.68 336.75,765.66 337.48,765.64 338.2,765.61 338.93,765.57 339.65,765.53 340.38,765.48 341.1,765.43 341.82,765.37 342.55,765.29 343.27,765.21 344,765.12 344.73,765.02 345.45,764.91 346.18,764.79 346.9,764.66 347.62,764.52 348.35,764.36 349.07,764.19 349.8,764.01 350.52,763.81 351.25,763.6 351.98,763.37 352.7,763.13 353.43,762.88 354.15,762.62 354.88,762.34 355.6,762.05 356.32,761.75 357.05,761.44 357.77,761.12 358.5,760.79 359.23,760.46 359.95,760.12 360.68,759.77 361.4,759.42 362.12,759.06 362.85,758.7 363.57,758.33 364.3,757.96 365.02,757.59 365.75,757.22 366.48,756.85 367.2,756.48 367.93,756.11 368.65,755.74 369.38,755.37 370.1,755.01 370.82,754.65 371.55,754.29 372.27,753.94 373,753.6 374.57,752.88 376.14,752.18 377.71,751.52 379.28,750.89 380.85,750.28 382.43,749.7 384,749.14 385.57,748.61 387.14,748.1 388.71,747.61 390.28,747.14 391.85,746.69 393.42,746.26 394.99,745.85 396.56,745.46 398.13,745.08 399.7,744.71 401.27,744.36 402.85,744.02 404.42,743.69 405.99,743.38 407.56,743.07 409.13,742.77 410.7,742.47 412.27,742.18 413.84,741.9 415.41,741.62 416.98,741.35 418.55,741.07 420.12,740.8 421.94,740.48 423.75,740.17 425.56,739.85 427.38,739.53 429.19,739.22 431,738.9 432.81,738.58 434.62,738.26 436.44,737.94 438.25,737.63 440.06,737.31 441.88,736.99 443.69,736.67 445.5,736.35 447.31,736.03 449.12,735.7 450.94,735.38 452.75,735.06 454.56,734.74 456.38,734.42 458.19,734.1 460,733.78 461.81,733.46 463.62,733.13 465.44,732.81 467.25,732.49 469.06,732.17 470.88,731.84 472.69,731.52 474.5,731.2" fill="none" stroke="#63a94a" stroke-width="1.65" stroke-linejoin="round" />
<circle cx="329.5" cy="765.7" r="3.5" fill="#63a94a"/>
<circle cx="351.25" cy="763.6" r="3.5" fill="#63a94a"/>
<circle cx="373" cy="753.6" r="3.5" fill="#63a94a"/>
<circle cx="420.12" cy="740.8" r="3.5" fill="#63a94a"/>
<circle cx="474.5" cy="731.2" r="3.5" fill="#63a94a"/>
<polyline points="329.5,759.8 330.23,759.65 330.95,759.5 331.68,759.35 332.4,759.2 333.12,759.05 333.85,758.9 334.57,758.75 335.3,758.6 336.02,758.45 336.75,758.3 337.48,758.15 338.2,758.01 338.93,757.86 339.65,757.71 340.38,757.57 341.1,757.42 341.82,757.28 342.55,757.14 343.27,756.99 344,756.85 344.73,756.71 345.45,756.57 346.18,756.43 346.9,756.3 347.62,756.16 348.35,756.03 349.07,755.89 349.8,755.76 350.52,755.63 351.25,755.5 351.98,755.37 352.7,755.25 353.43,755.12 354.15,755 354.88,754.87 355.6,754.75 356.32,754.63 357.05,754.51 357.77,754.39 358.5,754.27 359.23,754.15 359.95,754.03 360.68,753.91 361.4,753.79 362.12,753.67 362.85,753.55 363.57,753.43 364.3,753.31 365.02,753.19 365.75,753.07 366.48,752.95 367.2,752.83 367.93,752.7 368.65,752.58 369.38,752.45 370.1,752.32 370.82,752.2 371.55,752.07 372.27,751.93 373,751.8 374.57,751.5 376.14,751.2 377.71,750.89 379.28,750.56 380.85,750.23 382.43,749.89 384,749.54 385.57,749.18 387.14,748.81 388.71,748.43 390.28,748.04 391.85,747.64 393.42,747.24 394.99,746.82 396.56,746.39 398.13,745.95 399.7,745.5 401.27,745.04 402.85,744.57 404.42,744.09 405.99,743.6 407.56,743.1 409.13,742.59 410.7,742.07 412.27,741.54 413.84,740.99 415.41,740.43 416.98,739.87 418.55,739.29 420.12,738.7 421.94,738.01 423.75,737.3 425.56,736.57 427.38,735.84 429.19,735.08 431,734.32 432.81,733.55 434.62,732.76 436.44,731.96 438.25,731.15 440.06,730.33 441.88,729.5 443.69,728.66 445.5,727.82 447.31,726.96 449.12,726.1 450.94,725.23 452.75,724.35 454.56,723.47 456.38,722.58 458.19,721.69 460,720.79 461.81,719.89 463.62,718.98 465.44,718.07 467.25,717.16 469.06,716.25 470.88,715.33 472.69,714.42 474.5,713.5" fill="none" stroke="#e0962f" stroke-width="1.65" stroke-linejoin="round" />
<polygon points="324.9,763.65 334.1,763.65 329.5,755.95" fill="#e0962f" stroke="none" stroke-width="0"/>
<polygon points="346.65,759.35 355.85,759.35 351.25,751.65" fill="#e0962f" stroke="none" stroke-width="0"/>
<polygon points="368.4,755.65 377.6,755.65 373,747.95" fill="#e0962f" stroke="none" stroke-width="0"/>
<polygon points="415.52,742.55 424.73,742.55 420.12,734.85" fill="#e0962f" stroke="none" stroke-width="0"/>
<polygon points="469.9,717.35 479.1,717.35 474.5,709.65" fill="#e0962f" stroke="none" stroke-width="0"/>
<polyline points="329.5,749.5 330.58,749.36 331.64,749.23 332.68,749.1 333.71,748.97 334.72,748.84 335.72,748.72 336.7,748.59 337.66,748.47 338.61,748.36 339.55,748.24 340.47,748.12 341.38,748.01 342.28,747.9 343.17,747.78 344.04,747.67 344.91,747.56 345.76,747.44 346.6,747.33 347.44,747.22 348.26,747.1 349.08,746.98 349.89,746.87 350.69,746.75 351.48,746.63 352.27,746.5 353.05,746.38 353.82,746.25 354.59,746.12 355.36,745.98 356.12,745.85 356.88,745.71 357.63,745.56 358.38,745.41 359.13,745.26 359.88,745.1 360.62,744.94 361.37,744.77 362.11,744.6 362.86,744.42 363.6,744.24 364.35,744.05 365.09,743.86 365.84,743.65 366.6,743.45 367.35,743.23 368.11,743.01 368.87,742.78 369.64,742.54 370.41,742.3 371.18,742.05 371.97,741.78 372.75,741.52 373.55,741.24 374.35,740.95 375.16,740.65 375.98,740.35 376.81,740.03 377.64,739.71 378.49,739.37 379.34,739.02 380.21,738.67 381.09,738.3 381.98,737.92 382.88,737.54 383.79,737.14 384.72,736.73 385.67,736.31 386.63,735.88 387.6,735.44 388.6,734.99 389.6,734.53 390.63,734.06 391.68,733.58 392.74,733.08 393.83,732.58 394.94,732.07 396.06,731.55 397.21,731.02 398.39,730.48 399.58,729.93 400.8,729.37 402.05,728.8 403.32,728.22 404.62,727.63 405.94,727.03 407.29,726.42 408.67,725.8 410.08,725.17 411.52,724.54 412.99,723.89 414.49,723.23 416.02,722.57 417.58,721.89 419.18,721.21 420.81,720.52 422.47,719.81 424.17,719.1 425.91,718.38 427.68,717.65 429.49,716.91 431.34,716.16 433.22,715.41 435.15,714.64 437.11,713.87 439.11,713.08 441.16,712.29 443.25,711.49 445.38,710.68 447.55,709.86 449.77,709.03 452.03,708.2 454.34,707.36 456.69,706.5 459.09,705.64 461.53,704.77 464.03,703.89 466.57,703.01 469.16,702.11 471.81,701.21 474.5,700.3" fill="none" stroke="#5e3a60" stroke-width="1.65" stroke-linejoin="round" />
<polygon points="325.2,745.65 333.8,745.65 329.5,753.35" fill="#5e3a60" stroke="none" stroke-width="0"/>
<polygon points="346.95,742.85 355.55,742.85 351.25,750.55" fill="#5e3a60" stroke="none" stroke-width="0"/>
<polygon points="368.7,741.55 377.3,741.55 373,749.25" fill="#5e3a60" stroke="none" stroke-width="0"/>
<polygon points="415.82,714.75 424.43,714.75 420.12,722.45" fill="#5e3a60" stroke="none" stroke-width="0"/>
<polygon points="470.2,696.45 478.8,696.45 474.5,704.15" fill="#5e3a60" stroke="none" stroke-width="0"/>
<text x="330" y="661.7" font-size="9.75" text-anchor="start" fill="#1a1a1a" stroke="#1a1a1a" font-weight="normal" >HbF co-treated with</text>
<text x="330" y="674.2" font-size="9.75" text-anchor="start" fill="#1a1a1a" stroke="#1a1a1a" font-weight="normal" >z-Lig /2,3-BPG</text>
<text x="482.4" y="698.5" font-size="9.75" text-anchor="start" fill="#5e3a60" stroke="#5e3a60" font-weight="normal" >4 mM</text>
<text x="479.5" y="715.2" font-size="9.75" text-anchor="start" fill="#e0962f" stroke="#e0962f" font-weight="normal" >1.2 mM</text>
<text x="479.5" y="734.4" font-size="9.75" text-anchor="start" fill="#63a94a" stroke="#63a94a" font-weight="normal" >0.6 mM</text>
<text x="456.4" y="768.6" font-size="9.75" text-anchor="start" fill="#858585" stroke="#858585" font-weight="normal" textLength="55.2" lengthAdjust="spacingAndGlyphs">no phthalide</text>
<text x="375.2" y="847.8" font-size="12.3" text-anchor="start" fill="#1a1a1a" stroke="#1a1a1a" font-weight="normal" textLength="73" lengthAdjust="spacingAndGlyphs">2,3-BPG (mM)</text>
<text x="283.3" y="726.5" font-size="12.1" text-anchor="middle" fill="#1a1a1a" stroke="#1a1a1a" transform="rotate(-90 283.3 726.5)">P<tspan font-size="9.8" dy="3.6">50</tspan><tspan dy="-3.6"> (mmHg)</tspan></text>
<rect x="0" y="0" width="520" height="2" fill="#5a5a5a" stroke="none" stroke-width="0"/>
<rect x="0" y="0" width="1.4" height="939" fill="#1e1e1e" stroke="none" stroke-width="0"/>
<rect x="518" y="0" width="1" height="939" fill="#333" stroke="none" stroke-width="0"/>
<rect x="519" y="0" width="1" height="939" fill="#6a6a6a" stroke="none" stroke-width="0"/>
<rect x="0" y="937" width="520" height="1" fill="#333" stroke="none" stroke-width="0"/>
<rect x="0" y="938" width="520" height="1" fill="#6a6a6a" stroke="none" stroke-width="0"/>
</svg>
</body></html>
